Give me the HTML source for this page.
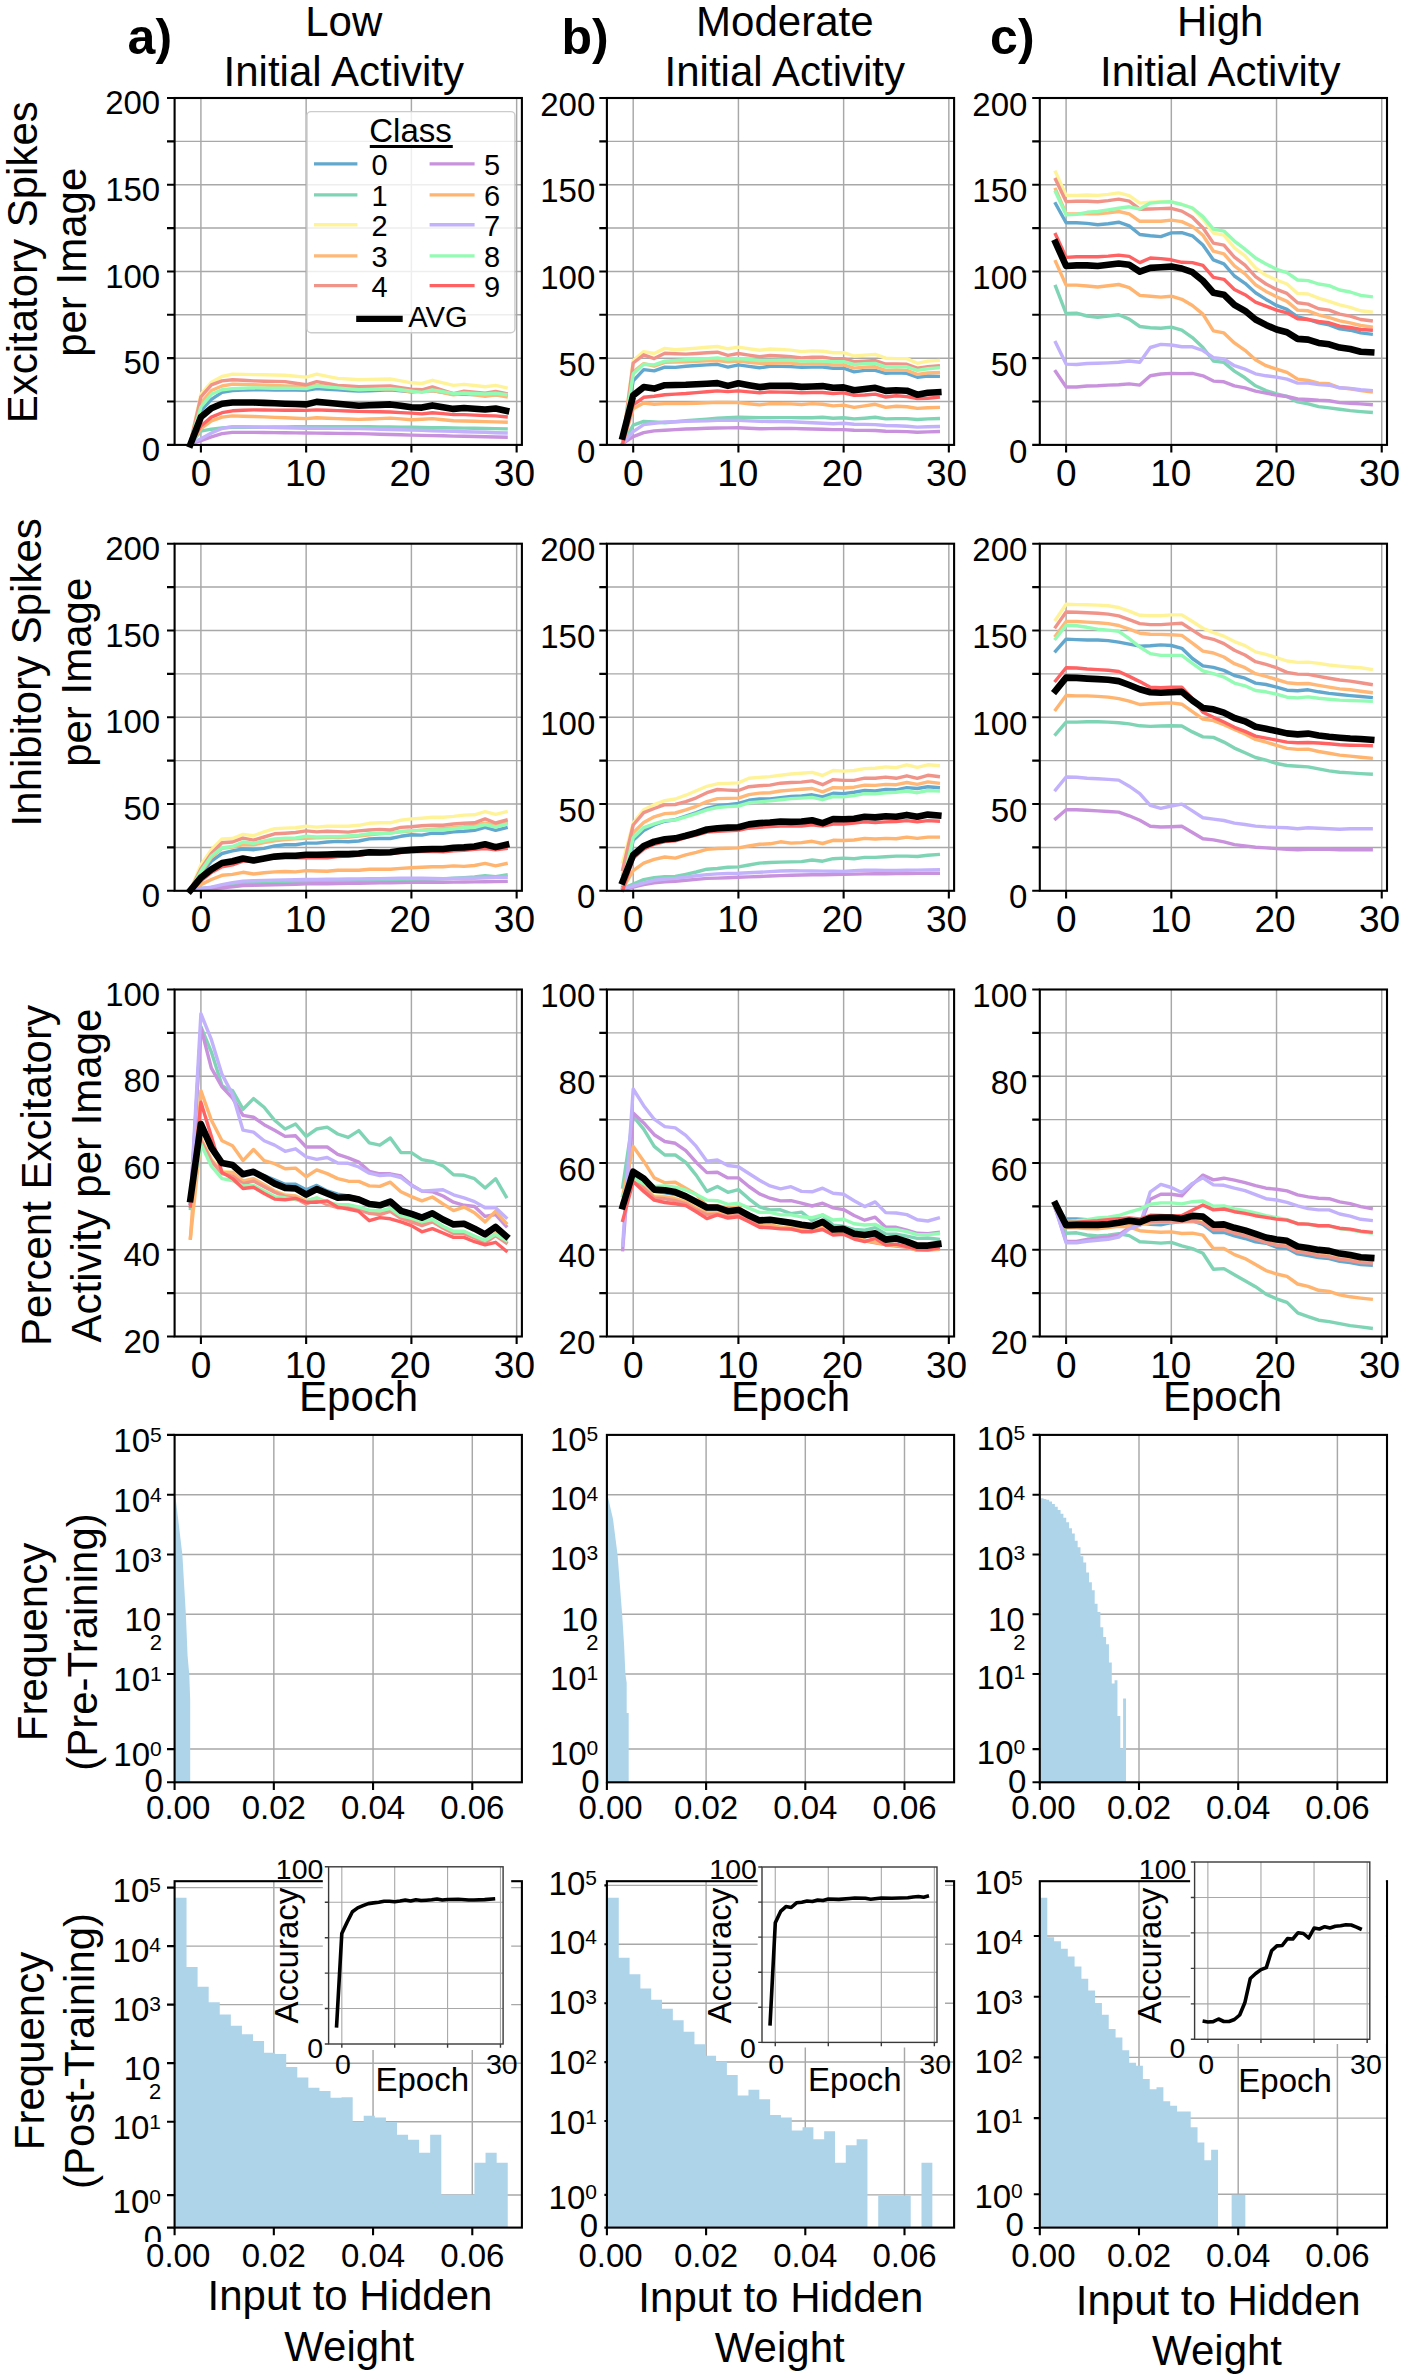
<!DOCTYPE html>
<html><head><meta charset="utf-8"><style>
html,body{margin:0;padding:0;background:#fff;}
svg{display:block;}
text{font-family:"Liberation Sans", sans-serif;}
</style></head><body>
<svg width="1418" height="2379" viewBox="0 0 1418 2379" font-family="Liberation Sans, sans-serif">
<rect width="1418" height="2379" fill="#fff"/>
<path d="M200.91 98.00V444.90M306.15 98.00V444.90M411.40 98.00V444.90M516.64 98.00V444.90M174.60 401.54H521.90M174.60 358.17H521.90M174.60 314.81H521.90M174.60 271.45H521.90M174.60 228.09H521.90M174.60 184.73H521.90M174.60 141.36H521.90" stroke="#a8a8a8" stroke-width="1.45" fill="none"/>
<polyline points="190.4,442.5 200.9,410.8 211.4,399.4 222.0,392.4 232.5,390.5 243.0,390.1 253.5,389.8 264.1,389.9 274.6,390.0 285.1,390.1 295.6,390.1 306.2,390.2 316.7,388.6 327.2,389.2 337.7,389.8 348.2,390.5 358.8,391.1 369.3,390.7 379.8,390.3 390.3,389.8 400.9,390.8 411.4,391.7 421.9,391.1 432.4,390.5 443.0,392.4 453.5,394.3 464.0,394.4 474.5,394.5 485.1,394.7 495.6,394.8 506.1,394.9" fill="none" stroke="#62a8ce" stroke-width="3.4" stroke-linejoin="round" stroke-linecap="square"/>
<polyline points="190.4,443.8 200.9,431.1 211.4,429.2 222.0,427.9 232.5,427.3 243.0,427.3 253.5,427.3 264.1,427.2 274.6,427.0 285.1,426.9 295.6,426.8 306.2,426.6 316.7,426.6 327.2,426.6 337.7,426.6 348.2,426.6 358.8,426.6 369.3,426.8 379.8,426.9 390.3,427.0 400.9,427.2 411.4,427.3 421.9,427.4 432.4,427.6 443.0,427.8 453.5,428.0 464.0,428.1 474.5,428.3 485.1,428.5 495.6,428.6 506.1,428.8" fill="none" stroke="#7fd4b6" stroke-width="3.4" stroke-linejoin="round" stroke-linecap="square"/>
<polyline points="190.4,442.5 200.9,394.3 211.4,382.2 222.0,376.5 232.5,374.2 243.0,374.4 253.5,374.6 264.1,374.8 274.6,375.0 285.1,375.2 295.6,376.2 306.2,377.1 316.7,374.2 327.2,376.3 337.7,378.4 348.2,379.0 358.8,379.7 369.3,379.5 379.8,379.3 390.3,379.0 400.9,380.9 411.4,382.8 421.9,383.5 432.4,380.3 443.0,382.8 453.5,385.4 464.0,384.4 474.5,385.5 485.1,386.7 495.6,385.4 506.1,387.7" fill="none" stroke="#fff39a" stroke-width="3.4" stroke-linejoin="round" stroke-linecap="square"/>
<polyline points="190.4,442.5 200.9,403.2 211.4,390.5 222.0,386.0 232.5,384.1 243.0,384.4 253.5,384.8 264.1,385.1 274.6,385.5 285.1,385.9 295.6,386.3 306.2,386.7 316.7,385.4 327.2,386.3 337.7,387.3 348.2,388.2 358.8,389.2 369.3,389.1 379.8,389.0 390.3,388.9 400.9,390.3 411.4,391.7 421.9,391.1 432.4,390.5 443.0,392.7 453.5,394.9 464.0,393.6 474.5,394.9 485.1,396.2 495.6,394.9 506.1,396.8" fill="none" stroke="#ffb877" stroke-width="3.4" stroke-linejoin="round" stroke-linecap="square"/>
<polyline points="190.4,442.5 200.9,396.8 211.4,384.8 222.0,380.9 232.5,379.7 243.0,380.3 253.5,380.9 264.1,381.2 274.6,381.4 285.1,381.6 295.6,383.2 306.2,384.8 316.7,381.6 327.2,383.5 337.7,385.4 348.2,386.0 358.8,386.7 369.3,386.4 379.8,386.2 390.3,386.0 400.9,387.6 411.4,389.2 421.9,389.8 432.4,386.9 443.0,390.3 453.5,393.6 464.0,391.1 474.5,392.2 485.1,393.3 495.6,391.5 506.1,393.6" fill="none" stroke="#f0948a" stroke-width="3.4" stroke-linejoin="round" stroke-linecap="square"/>
<polyline points="190.4,443.8 200.9,440.6 211.4,436.8 222.0,433.6 232.5,432.4 243.0,432.4 253.5,432.4 264.1,432.5 274.6,432.6 285.1,432.7 295.6,432.9 306.2,433.0 316.7,433.1 327.2,433.2 337.7,433.4 348.2,433.5 358.8,433.6 369.3,433.9 379.8,434.2 390.3,434.5 400.9,434.8 411.4,435.1 421.9,435.4 432.4,435.6 443.0,435.8 453.5,436.1 464.0,436.3 474.5,436.5 485.1,436.7 495.6,437.0 506.1,437.2" fill="none" stroke="#c992dd" stroke-width="3.4" stroke-linejoin="round" stroke-linecap="square"/>
<polyline points="190.4,443.8 200.9,428.5 211.4,420.9 222.0,417.1 232.5,415.9 243.0,416.2 253.5,416.5 264.1,416.9 274.6,417.4 285.1,417.8 295.6,418.2 306.2,418.6 316.7,417.8 327.2,418.2 337.7,418.6 348.2,419.0 358.8,419.4 369.3,419.0 379.8,418.6 390.3,418.1 400.9,418.9 411.4,419.7 421.9,419.2 432.4,418.6 443.0,419.7 453.5,420.7 464.0,421.0 474.5,421.3 485.1,421.6 495.6,421.9 506.1,422.2" fill="none" stroke="#ffb470" stroke-width="3.4" stroke-linejoin="round" stroke-linecap="square"/>
<polyline points="190.4,443.8 200.9,438.7 211.4,433.0 222.0,428.5 232.5,426.6 243.0,426.8 253.5,427.0 264.1,427.3 274.6,427.5 285.1,427.8 295.6,428.0 306.2,428.3 316.7,428.3 327.2,428.4 337.7,428.4 348.2,428.5 358.8,428.5 369.3,428.9 379.8,429.2 390.3,429.5 400.9,429.8 411.4,430.1 421.9,430.4 432.4,430.7 443.0,431.0 453.5,431.4 464.0,431.7 474.5,432.0 485.1,432.3 495.6,432.7 506.1,433.0" fill="none" stroke="#c2b2fb" stroke-width="3.4" stroke-linejoin="round" stroke-linecap="square"/>
<polyline points="190.4,442.5 200.9,407.0 211.4,394.3 222.0,389.8 232.5,388.6 243.0,388.2 253.5,387.9 264.1,388.1 274.6,388.2 285.1,388.3 295.6,388.4 306.2,388.6 316.7,386.0 327.2,387.0 337.7,387.9 348.2,388.9 358.8,389.8 369.3,389.4 379.8,389.0 390.3,388.6 400.9,389.8 411.4,391.1 421.9,392.4 432.4,389.8 443.0,391.7 453.5,393.6 464.0,393.0 474.5,393.5 485.1,394.0 495.6,393.3 506.1,394.5" fill="none" stroke="#94fbb4" stroke-width="3.4" stroke-linejoin="round" stroke-linecap="square"/>
<polyline points="190.4,443.8 200.9,426.0 211.4,417.1 222.0,412.7 232.5,410.8 243.0,410.3 253.5,409.9 264.1,410.0 274.6,410.1 285.1,410.2 295.6,410.3 306.2,410.4 316.7,409.9 327.2,410.3 337.7,410.6 348.2,411.0 358.8,411.4 369.3,411.6 379.8,411.8 390.3,412.0 400.9,412.6 411.4,413.1 421.9,413.9 432.4,412.7 443.0,413.6 453.5,414.6 464.0,414.6 474.5,415.1 485.1,415.6 495.6,415.9 506.1,416.9" fill="none" stroke="#ff6262" stroke-width="3.4" stroke-linejoin="round" stroke-linecap="square"/>
<polyline points="190.4,444.4 200.9,417.1 211.4,408.2 222.0,403.8 232.5,402.5 243.0,402.5 253.5,402.5 264.1,402.9 274.6,403.3 285.1,403.7 295.6,404.0 306.2,404.4 316.7,401.9 327.2,402.8 337.7,403.8 348.2,404.7 358.8,405.7 369.3,405.3 379.8,404.9 390.3,404.4 400.9,405.8 411.4,407.2 421.9,407.6 432.4,405.4 443.0,407.2 453.5,408.9 464.0,408.0 474.5,408.7 485.1,409.5 495.6,408.5 506.1,410.8" fill="none" stroke="#000" stroke-width="6.6" stroke-linejoin="round" stroke-linecap="square"/>
<rect x="174.60" y="98.00" width="347.30" height="346.90" fill="none" stroke="#000" stroke-width="2.1"/>
<path d="M200.91 444.90v7.6M306.15 444.90v7.6M411.40 444.90v7.6M516.64 444.90v7.6M174.60 444.90h-7.6M174.60 401.54h-7.6M174.60 358.17h-7.6M174.60 314.81h-7.6M174.60 271.45h-7.6M174.60 228.09h-7.6M174.60 184.73h-7.6M174.60 141.36h-7.6M174.60 98.00h-7.6" stroke="#000" stroke-width="2.1" fill="none"/>
<text x="160.19" y="461.11" font-size="33.0" text-anchor="end" font-weight="normal">0</text>
<text x="160.19" y="374.39" font-size="33.0" text-anchor="end" font-weight="normal">50</text>
<text x="160.19" y="287.66" font-size="33.0" text-anchor="end" font-weight="normal">100</text>
<text x="160.19" y="200.94" font-size="33.0" text-anchor="end" font-weight="normal">150</text>
<text x="160.19" y="114.21" font-size="33.0" text-anchor="end" font-weight="normal">200</text>
<text x="201.11" y="486.19" font-size="37.0" text-anchor="middle" font-weight="normal">0</text>
<text x="305.55" y="486.19" font-size="37.0" text-anchor="middle" font-weight="normal">10</text>
<text x="410.00" y="486.19" font-size="37.0" text-anchor="middle" font-weight="normal">20</text>
<text x="514.44" y="486.19" font-size="37.0" text-anchor="middle" font-weight="normal">30</text>
<path d="M633.20 98.00V444.90M738.42 98.00V444.90M843.63 98.00V444.90M948.84 98.00V444.90M606.90 401.54H954.10M606.90 358.17H954.10M606.90 314.81H954.10M606.90 271.45H954.10M606.90 228.09H954.10M606.90 184.73H954.10M606.90 141.36H954.10" stroke="#a8a8a8" stroke-width="1.45" fill="none"/>
<polyline points="622.7,442.7 633.2,380.8 643.7,369.6 654.2,370.9 664.8,367.1 675.3,367.4 685.8,366.2 696.3,365.5 706.9,364.9 717.4,364.3 727.9,367.1 738.4,364.9 748.9,366.4 759.5,367.8 770.0,366.2 780.5,366.4 791.0,366.6 801.5,367.4 812.1,367.1 822.6,367.1 833.1,368.3 843.6,368.1 854.1,371.9 864.7,370.4 875.2,370.4 885.7,373.4 896.2,372.9 906.8,373.4 917.3,377.2 927.8,376.0 938.3,376.3" fill="none" stroke="#62a8ce" stroke-width="3.4" stroke-linejoin="round" stroke-linecap="square"/>
<polyline points="622.7,443.6 633.2,425.2 643.7,421.4 654.2,422.0 664.8,422.7 675.3,421.7 685.8,420.8 696.3,419.9 706.9,419.1 717.4,418.2 727.9,417.8 738.4,417.3 748.9,417.5 759.5,417.6 770.0,417.6 780.5,417.6 791.0,417.6 801.5,417.8 812.1,417.8 822.6,417.3 833.1,418.2 843.6,417.8 854.1,418.9 864.7,418.2 875.2,417.3 885.7,418.9 896.2,418.6 906.8,418.6 917.3,419.5 927.8,418.9 938.3,418.6" fill="none" stroke="#7fd4b6" stroke-width="3.4" stroke-linejoin="round" stroke-linecap="square"/>
<polyline points="622.7,441.7 633.2,360.5 643.7,351.6 654.2,353.5 664.8,348.4 675.3,349.7 685.8,349.0 696.3,348.2 706.9,347.3 717.4,346.5 727.9,348.8 738.4,347.1 748.9,348.7 759.5,350.3 770.0,349.0 780.5,349.5 791.0,350.1 801.5,351.6 812.1,350.9 822.6,351.3 833.1,352.8 843.6,352.6 854.1,356.0 864.7,355.1 875.2,354.4 885.7,358.2 896.2,358.6 906.8,358.6 917.3,363.3 927.8,361.1 938.3,360.5" fill="none" stroke="#fff39a" stroke-width="3.4" stroke-linejoin="round" stroke-linecap="square"/>
<polyline points="622.7,442.3 633.2,371.9 643.7,363.6 654.2,366.2 664.8,362.4 675.3,362.1 685.8,361.7 696.3,361.3 706.9,360.9 717.4,360.5 727.9,361.7 738.4,361.1 748.9,362.2 759.5,363.3 770.0,363.2 780.5,363.1 791.0,363.0 801.5,364.3 812.1,363.6 822.6,364.0 833.1,364.9 843.6,364.9 854.1,368.1 864.7,367.1 875.2,366.8 885.7,370.4 896.2,370.0 906.8,370.4 917.3,374.4 927.8,372.9 938.3,372.5" fill="none" stroke="#ffb877" stroke-width="3.4" stroke-linejoin="round" stroke-linecap="square"/>
<polyline points="622.7,442.3 633.2,363.0 643.7,354.8 654.2,358.6 664.8,353.2 675.3,353.7 685.8,354.1 696.3,353.5 706.9,352.8 717.4,352.2 727.9,355.4 738.4,353.5 748.9,355.1 759.5,356.7 770.0,355.4 780.5,356.0 791.0,356.7 801.5,357.9 812.1,357.3 822.6,357.3 833.1,358.6 843.6,358.6 854.1,361.7 864.7,361.1 875.2,360.5 885.7,364.0 896.2,364.0 906.8,364.3 917.3,368.1 927.8,366.8 938.3,365.8" fill="none" stroke="#f0948a" stroke-width="3.4" stroke-linejoin="round" stroke-linecap="square"/>
<polyline points="622.7,443.6 633.2,436.6 643.7,432.6 654.2,430.9 664.8,430.3 675.3,429.6 685.8,429.0 696.3,428.7 706.9,428.3 717.4,428.0 727.9,427.9 738.4,427.7 748.9,428.3 759.5,428.8 770.0,428.6 780.5,428.5 791.0,428.4 801.5,428.7 812.1,429.0 822.6,429.3 833.1,429.6 843.6,429.6 854.1,430.3 864.7,430.4 875.2,430.5 885.7,431.3 896.2,431.4 906.8,431.6 917.3,432.2 927.8,431.9 938.3,431.6" fill="none" stroke="#c992dd" stroke-width="3.4" stroke-linejoin="round" stroke-linecap="square"/>
<polyline points="622.7,443.6 633.2,408.7 643.7,403.0 654.2,404.3 664.8,403.6 675.3,403.6 685.8,403.6 696.3,403.2 706.9,402.8 717.4,402.4 727.9,402.5 738.4,402.6 748.9,403.8 759.5,404.9 770.0,403.6 780.5,403.8 791.0,403.9 801.5,404.6 812.1,403.6 822.6,404.3 833.1,405.9 843.6,405.1 854.1,407.4 864.7,405.9 875.2,404.3 885.7,407.4 896.2,406.2 906.8,406.8 917.3,408.4 927.8,407.7 938.3,407.4" fill="none" stroke="#ffb470" stroke-width="3.4" stroke-linejoin="round" stroke-linecap="square"/>
<polyline points="622.7,443.6 633.2,431.6 643.7,424.6 654.2,423.3 664.8,422.0 675.3,421.7 685.8,421.4 696.3,421.1 706.9,420.7 717.4,420.4 727.9,420.4 738.4,420.4 748.9,420.9 759.5,421.4 770.0,421.5 780.5,421.6 791.0,421.7 801.5,422.2 812.1,422.7 822.6,423.2 833.1,423.7 843.6,423.3 854.1,424.2 864.7,424.4 875.2,424.6 885.7,425.5 896.2,425.8 906.8,426.2 917.3,427.1 927.8,426.8 938.3,426.5" fill="none" stroke="#c2b2fb" stroke-width="3.4" stroke-linejoin="round" stroke-linecap="square"/>
<polyline points="622.7,442.3 633.2,373.8 643.7,364.3 654.2,364.9 664.8,361.1 675.3,360.5 685.8,359.8 696.3,359.2 706.9,358.6 717.4,357.9 727.9,359.4 738.4,358.6 748.9,359.5 759.5,360.5 770.0,360.4 780.5,360.3 791.0,360.2 801.5,361.1 812.1,360.8 822.6,361.1 833.1,361.7 843.6,361.7 854.1,364.5 864.7,363.6 875.2,363.4 885.7,366.8 896.2,366.8 906.8,366.8 917.3,370.4 927.8,368.7 938.3,367.8" fill="none" stroke="#94fbb4" stroke-width="3.4" stroke-linejoin="round" stroke-linecap="square"/>
<polyline points="622.7,443.6 633.2,404.9 643.7,397.3 654.2,396.3 664.8,394.7 675.3,394.1 685.8,393.5 696.3,392.6 706.9,391.8 717.4,390.9 727.9,391.6 738.4,390.9 748.9,391.9 759.5,392.8 770.0,391.9 780.5,392.1 791.0,392.2 801.5,392.8 812.1,392.5 822.6,392.5 833.1,393.5 843.6,392.8 854.1,395.4 864.7,395.0 875.2,394.1 885.7,397.0 896.2,395.8 906.8,396.6 917.3,398.5 927.8,398.3 938.3,397.3" fill="none" stroke="#ff6262" stroke-width="3.4" stroke-linejoin="round" stroke-linecap="square"/>
<polyline points="622.7,436.6 633.2,395.4 643.7,387.1 654.2,388.6 664.8,385.2 675.3,385.0 685.8,384.8 696.3,384.2 706.9,383.7 717.4,383.1 727.9,385.9 738.4,383.3 748.9,385.2 759.5,387.1 770.0,385.9 780.5,385.9 791.0,385.9 801.5,386.9 812.1,386.5 822.6,386.1 833.1,387.8 843.6,387.4 854.1,390.3 864.7,389.0 875.2,387.8 885.7,390.9 896.2,390.3 906.8,390.7 917.3,394.7 927.8,392.8 938.3,392.2" fill="none" stroke="#000" stroke-width="6.6" stroke-linejoin="round" stroke-linecap="square"/>
<rect x="606.90" y="98.00" width="347.20" height="346.90" fill="none" stroke="#000" stroke-width="2.1"/>
<path d="M633.20 444.90v7.6M738.42 444.90v7.6M843.63 444.90v7.6M948.84 444.90v7.6M606.90 444.90h-7.6M606.90 401.54h-7.6M606.90 358.17h-7.6M606.90 314.81h-7.6M606.90 271.45h-7.6M606.90 228.09h-7.6M606.90 184.73h-7.6M606.90 141.36h-7.6M606.90 98.00h-7.6" stroke="#000" stroke-width="2.1" fill="none"/>
<text x="595.29" y="462.51" font-size="33.0" text-anchor="end" font-weight="normal">0</text>
<text x="595.29" y="375.79" font-size="33.0" text-anchor="end" font-weight="normal">50</text>
<text x="595.29" y="289.06" font-size="33.0" text-anchor="end" font-weight="normal">100</text>
<text x="595.29" y="202.34" font-size="33.0" text-anchor="end" font-weight="normal">150</text>
<text x="595.29" y="115.61" font-size="33.0" text-anchor="end" font-weight="normal">200</text>
<text x="633.40" y="486.19" font-size="37.0" text-anchor="middle" font-weight="normal">0</text>
<text x="737.82" y="486.19" font-size="37.0" text-anchor="middle" font-weight="normal">10</text>
<text x="842.23" y="486.19" font-size="37.0" text-anchor="middle" font-weight="normal">20</text>
<text x="946.64" y="486.19" font-size="37.0" text-anchor="middle" font-weight="normal">30</text>
<path d="M1066.10 98.00V444.90M1171.32 98.00V444.90M1276.53 98.00V444.90M1381.74 98.00V444.90M1039.80 401.54H1387.00M1039.80 358.17H1387.00M1039.80 314.81H1387.00M1039.80 271.45H1387.00M1039.80 228.09H1387.00M1039.80 184.73H1387.00M1039.80 141.36H1387.00" stroke="#a8a8a8" stroke-width="1.45" fill="none"/>
<polyline points="1055.6,203.7 1066.1,222.8 1076.6,222.8 1087.1,223.4 1097.7,224.7 1108.2,223.8 1118.7,222.2 1129.2,225.9 1139.8,234.5 1150.3,235.8 1160.8,236.6 1171.3,232.9 1181.8,232.7 1192.4,235.8 1202.9,245.0 1213.4,259.9 1223.9,263.9 1234.4,276.0 1245.0,283.3 1255.5,292.7 1266.0,299.4 1276.5,305.4 1287.0,309.4 1297.6,316.8 1308.1,319.5 1318.6,322.8 1329.1,324.9 1339.7,328.9 1350.2,330.2 1360.7,332.9 1371.2,334.2" fill="none" stroke="#62a8ce" stroke-width="3.4" stroke-linejoin="round" stroke-linecap="square"/>
<polyline points="1055.6,286.4 1066.1,313.5 1076.6,313.2 1087.1,316.0 1097.7,317.2 1108.2,316.0 1118.7,314.8 1129.2,319.1 1139.8,326.5 1150.3,327.7 1160.8,328.3 1171.3,327.1 1181.8,330.2 1192.4,337.6 1202.9,347.5 1213.4,361.0 1223.9,362.4 1234.4,371.1 1245.0,377.8 1255.5,385.8 1266.0,390.5 1276.5,393.9 1287.0,396.5 1297.6,401.9 1308.1,403.9 1318.6,406.6 1329.1,407.9 1339.7,409.3 1350.2,410.6 1360.7,411.6 1371.2,412.4" fill="none" stroke="#7fd4b6" stroke-width="3.4" stroke-linejoin="round" stroke-linecap="square"/>
<polyline points="1055.6,172.2 1066.1,195.4 1076.6,195.4 1087.1,195.0 1097.7,195.4 1108.2,194.4 1118.7,192.9 1129.2,195.7 1139.8,203.1 1150.3,202.1 1160.8,201.8 1171.3,201.8 1181.8,204.3 1192.4,208.0 1202.9,219.1 1213.4,233.1 1223.9,235.1 1234.4,247.8 1245.0,255.9 1255.5,267.9 1266.0,275.3 1276.5,280.0 1287.0,284.0 1297.6,293.4 1308.1,294.0 1318.6,298.1 1329.1,301.4 1339.7,304.8 1350.2,307.4 1360.7,310.8 1371.2,312.1" fill="none" stroke="#fff39a" stroke-width="3.4" stroke-linejoin="round" stroke-linecap="square"/>
<polyline points="1055.6,189.5 1066.1,213.6 1076.6,213.9 1087.1,213.6 1097.7,213.9 1108.2,212.9 1118.7,211.5 1129.2,213.9 1139.8,221.3 1150.3,221.3 1160.8,221.3 1171.3,220.1 1181.8,221.6 1192.4,226.5 1202.9,235.2 1213.4,251.2 1223.9,253.8 1234.4,265.9 1245.0,273.9 1255.5,284.7 1266.0,291.4 1276.5,296.7 1287.0,301.4 1297.6,310.1 1308.1,310.8 1318.6,314.8 1329.1,317.5 1339.7,320.8 1350.2,322.8 1360.7,325.5 1371.2,326.9" fill="none" stroke="#ffb877" stroke-width="3.4" stroke-linejoin="round" stroke-linecap="square"/>
<polyline points="1055.6,179.6 1066.1,201.6 1076.6,201.2 1087.1,201.2 1097.7,201.8 1108.2,200.6 1118.7,199.1 1129.2,201.2 1139.8,209.2 1150.3,209.0 1160.8,208.6 1171.3,208.3 1181.8,211.1 1192.4,217.3 1202.9,227.8 1213.4,243.1 1223.9,245.1 1234.4,257.2 1245.0,265.2 1255.5,276.6 1266.0,284.0 1276.5,289.4 1287.0,293.4 1297.6,302.8 1308.1,304.1 1318.6,308.8 1329.1,310.1 1339.7,314.1 1350.2,316.1 1360.7,319.5 1371.2,320.8" fill="none" stroke="#f0948a" stroke-width="3.4" stroke-linejoin="round" stroke-linecap="square"/>
<polyline points="1055.6,371.5 1066.1,387.0 1076.6,387.0 1087.1,386.0 1097.7,385.7 1108.2,385.1 1118.7,384.7 1129.2,383.9 1139.8,385.1 1150.3,375.8 1160.8,374.0 1171.3,373.4 1181.8,373.6 1192.4,373.4 1202.9,375.8 1213.4,381.1 1223.9,381.8 1234.4,385.8 1245.0,387.8 1255.5,391.2 1266.0,393.2 1276.5,395.2 1287.0,396.5 1297.6,399.0 1308.1,399.5 1318.6,400.3 1329.1,400.8 1339.7,402.6 1350.2,403.2 1360.7,403.9 1371.2,404.6" fill="none" stroke="#c992dd" stroke-width="3.4" stroke-linejoin="round" stroke-linecap="square"/>
<polyline points="1055.6,261.7 1066.1,285.1 1076.6,285.1 1087.1,286.0 1097.7,287.0 1108.2,285.8 1118.7,284.5 1129.2,287.6 1139.8,295.4 1150.3,296.2 1160.8,297.1 1171.3,296.2 1181.8,299.3 1192.4,305.5 1202.9,314.1 1213.4,330.9 1223.9,332.9 1234.4,342.9 1245.0,350.3 1255.5,359.7 1266.0,365.7 1276.5,369.1 1287.0,372.4 1297.6,379.1 1308.1,380.5 1318.6,383.1 1329.1,383.8 1339.7,387.8 1350.2,388.8 1360.7,390.5 1371.2,391.9" fill="none" stroke="#ffb470" stroke-width="3.4" stroke-linejoin="round" stroke-linecap="square"/>
<polyline points="1055.6,342.5 1066.1,364.1 1076.6,364.5 1087.1,363.5 1097.7,363.3 1108.2,362.9 1118.7,362.3 1129.2,361.0 1139.8,362.3 1150.3,347.5 1160.8,344.4 1171.3,345.0 1181.8,346.8 1192.4,346.8 1202.9,350.5 1213.4,357.7 1223.9,359.0 1234.4,365.7 1245.0,369.1 1255.5,373.8 1266.0,375.8 1276.5,377.1 1287.0,379.1 1297.6,383.1 1308.1,383.1 1318.6,384.5 1329.1,385.2 1339.7,387.8 1350.2,388.5 1360.7,389.8 1371.2,390.5" fill="none" stroke="#c2b2fb" stroke-width="3.4" stroke-linejoin="round" stroke-linecap="square"/>
<polyline points="1055.6,192.0 1066.1,214.8 1076.6,214.4 1087.1,212.3 1097.7,211.5 1108.2,209.9 1118.7,208.3 1129.2,206.8 1139.8,209.0 1150.3,203.1 1160.8,202.1 1171.3,201.8 1181.8,204.5 1192.4,208.0 1202.9,216.6 1213.4,229.1 1223.9,231.1 1234.4,241.1 1245.0,249.2 1255.5,257.9 1266.0,263.9 1276.5,269.3 1287.0,272.6 1297.6,280.0 1308.1,280.6 1318.6,284.0 1329.1,285.6 1339.7,290.0 1350.2,292.0 1360.7,295.4 1371.2,296.7" fill="none" stroke="#94fbb4" stroke-width="3.4" stroke-linejoin="round" stroke-linecap="square"/>
<polyline points="1055.6,234.5 1066.1,257.4 1076.6,256.8 1087.1,256.8 1097.7,256.8 1108.2,256.1 1118.7,255.1 1129.2,256.4 1139.8,262.6 1150.3,258.0 1160.8,258.6 1171.3,259.8 1181.8,262.3 1192.4,262.6 1202.9,265.4 1213.4,277.3 1223.9,279.3 1234.4,289.4 1245.0,294.7 1255.5,302.1 1266.0,306.1 1276.5,310.1 1287.0,312.8 1297.6,318.8 1308.1,319.5 1318.6,321.5 1329.1,322.8 1339.7,326.2 1350.2,327.5 1360.7,329.5 1371.2,330.2" fill="none" stroke="#ff6262" stroke-width="3.4" stroke-linejoin="round" stroke-linecap="square"/>
<polyline points="1055.6,242.6 1066.1,266.0 1076.6,265.4 1087.1,265.4 1097.7,266.0 1108.2,264.8 1118.7,263.5 1129.2,264.8 1139.8,271.6 1150.3,267.9 1160.8,267.2 1171.3,266.6 1181.8,268.5 1192.4,272.2 1202.9,280.8 1213.4,292.7 1223.9,294.7 1234.4,304.8 1245.0,310.8 1255.5,319.5 1266.0,324.9 1276.5,329.5 1287.0,332.2 1297.6,338.9 1308.1,339.6 1318.6,342.9 1329.1,344.3 1339.7,347.6 1350.2,349.0 1360.7,351.7 1371.2,352.3" fill="none" stroke="#000" stroke-width="6.6" stroke-linejoin="round" stroke-linecap="square"/>
<rect x="1039.80" y="98.00" width="347.20" height="346.90" fill="none" stroke="#000" stroke-width="2.1"/>
<path d="M1066.10 444.90v7.6M1171.32 444.90v7.6M1276.53 444.90v7.6M1381.74 444.90v7.6M1039.80 444.90h-7.6M1039.80 401.54h-7.6M1039.80 358.17h-7.6M1039.80 314.81h-7.6M1039.80 271.45h-7.6M1039.80 228.09h-7.6M1039.80 184.73h-7.6M1039.80 141.36h-7.6M1039.80 98.00h-7.6" stroke="#000" stroke-width="2.1" fill="none"/>
<text x="1027.39" y="462.51" font-size="33.0" text-anchor="end" font-weight="normal">0</text>
<text x="1027.39" y="375.79" font-size="33.0" text-anchor="end" font-weight="normal">50</text>
<text x="1027.39" y="289.06" font-size="33.0" text-anchor="end" font-weight="normal">100</text>
<text x="1027.39" y="202.34" font-size="33.0" text-anchor="end" font-weight="normal">150</text>
<text x="1027.39" y="115.61" font-size="33.0" text-anchor="end" font-weight="normal">200</text>
<text x="1066.30" y="486.19" font-size="37.0" text-anchor="middle" font-weight="normal">0</text>
<text x="1170.72" y="486.19" font-size="37.0" text-anchor="middle" font-weight="normal">10</text>
<text x="1275.13" y="486.19" font-size="37.0" text-anchor="middle" font-weight="normal">20</text>
<text x="1379.54" y="486.19" font-size="37.0" text-anchor="middle" font-weight="normal">30</text>
<path d="M200.91 543.70V890.80M306.15 543.70V890.80M411.40 543.70V890.80M516.64 543.70V890.80M174.60 847.41H521.90M174.60 804.02H521.90M174.60 760.64H521.90M174.60 717.25H521.90M174.60 673.86H521.90M174.60 630.48H521.90M174.60 587.09H521.90" stroke="#a8a8a8" stroke-width="1.45" fill="none"/>
<polyline points="190.4,890.3 200.9,873.8 211.4,861.1 222.0,853.5 232.5,850.9 243.0,849.0 253.5,849.7 264.1,848.4 274.6,845.9 285.1,844.8 295.6,844.8 306.2,843.1 316.7,843.1 327.2,842.0 337.7,841.4 348.2,841.8 358.8,841.0 369.3,838.9 379.8,838.5 390.3,838.5 400.9,836.3 411.4,834.7 421.9,835.1 432.4,833.2 443.0,833.2 453.5,831.9 464.0,831.3 474.5,830.4 485.1,827.4 495.6,830.4 506.1,827.8" fill="none" stroke="#62a8ce" stroke-width="3.4" stroke-linejoin="round" stroke-linecap="square"/>
<polyline points="190.4,890.3 200.9,888.4 211.4,887.5 222.0,886.5 232.5,885.0 243.0,883.7 253.5,883.3 264.1,883.3 274.6,882.7 285.1,882.3 295.6,882.0 306.2,881.7 316.7,881.5 327.2,881.4 337.7,881.3 348.2,881.2 358.8,881.1 369.3,880.9 379.8,880.7 390.3,880.5 400.9,880.3 411.4,880.1 421.9,879.7 432.4,879.3 443.0,878.9 453.5,878.2 464.0,877.6 474.5,877.0 485.1,875.7 495.6,876.6 506.1,875.0" fill="none" stroke="#7fd4b6" stroke-width="3.4" stroke-linejoin="round" stroke-linecap="square"/>
<polyline points="190.4,890.3 200.9,864.9 211.4,849.7 222.0,838.9 232.5,838.5 243.0,834.4 253.5,835.7 264.1,831.9 274.6,828.7 285.1,828.1 295.6,827.8 306.2,826.2 316.7,827.1 327.2,826.2 337.7,826.2 348.2,826.2 358.8,825.3 369.3,823.3 379.8,822.8 390.3,822.8 400.9,820.2 411.4,818.9 421.9,818.2 432.4,817.3 443.0,817.3 453.5,816.4 464.0,815.1 474.5,814.8 485.1,811.6 495.6,814.4 506.1,811.8" fill="none" stroke="#fff39a" stroke-width="3.4" stroke-linejoin="round" stroke-linecap="square"/>
<polyline points="190.4,890.3 200.9,872.5 211.4,857.3 222.0,848.4 232.5,847.1 243.0,844.6 253.5,844.8 264.1,842.7 274.6,840.8 285.1,839.5 295.6,838.9 306.2,838.2 316.7,837.9 327.2,837.6 337.7,837.2 348.2,837.0 358.8,836.0 369.3,834.9 379.8,833.9 390.3,832.9 400.9,831.9 411.4,830.9 421.9,830.1 432.4,829.2 443.0,828.4 453.5,827.6 464.0,826.8 474.5,825.0 485.1,823.3 495.6,824.9 506.1,822.4" fill="none" stroke="#ffb877" stroke-width="3.4" stroke-linejoin="round" stroke-linecap="square"/>
<polyline points="190.4,890.3 200.9,868.7 211.4,853.5 222.0,842.7 232.5,842.0 243.0,838.2 253.5,840.1 264.1,837.0 274.6,833.8 285.1,833.2 295.6,832.5 306.2,830.9 316.7,831.9 327.2,831.3 337.7,831.6 348.2,832.1 358.8,830.9 369.3,830.0 379.8,829.4 390.3,830.0 400.9,827.4 411.4,826.8 421.9,825.8 432.4,825.3 443.0,825.3 453.5,824.0 464.0,823.3 474.5,822.8 485.1,818.9 495.6,823.0 506.1,820.2" fill="none" stroke="#f0948a" stroke-width="3.4" stroke-linejoin="round" stroke-linecap="square"/>
<polyline points="190.4,890.3 200.9,889.0 211.4,888.8 222.0,887.7 232.5,886.7 243.0,885.5 253.5,885.2 264.1,885.0 274.6,884.8 285.1,884.6 295.6,884.3 306.2,883.9 316.7,883.8 327.2,883.7 337.7,883.6 348.2,883.4 358.8,883.3 369.3,883.1 379.8,882.9 390.3,882.8 400.9,882.6 411.4,882.4 421.9,882.3 432.4,882.3 443.0,882.2 453.5,882.1 464.0,882.0 474.5,881.9 485.1,881.7 495.6,881.6 506.1,881.4" fill="none" stroke="#c992dd" stroke-width="3.4" stroke-linejoin="round" stroke-linecap="square"/>
<polyline points="190.4,890.3 200.9,884.6 211.4,879.5 222.0,875.3 232.5,874.4 243.0,872.3 253.5,874.0 264.1,872.8 274.6,871.9 285.1,871.5 295.6,871.9 306.2,870.6 316.7,871.0 327.2,871.2 337.7,870.2 348.2,870.2 358.8,870.2 369.3,869.3 379.8,869.3 390.3,869.3 400.9,868.4 411.4,867.7 421.9,867.2 432.4,866.8 443.0,866.8 453.5,865.9 464.0,866.4 474.5,865.5 485.1,863.4 495.6,865.9 506.1,863.6" fill="none" stroke="#ffb470" stroke-width="3.4" stroke-linejoin="round" stroke-linecap="square"/>
<polyline points="190.4,890.3 200.9,888.4 211.4,887.1 222.0,884.6 232.5,882.7 243.0,881.1 253.5,880.8 264.1,880.4 274.6,880.1 285.1,879.9 295.6,879.7 306.2,879.5 316.7,879.4 327.2,879.2 337.7,879.1 348.2,879.0 358.8,878.9 369.3,878.7 379.8,878.6 390.3,878.5 400.9,878.3 411.4,878.2 421.9,878.3 432.4,878.5 443.0,878.6 453.5,878.5 464.0,878.3 474.5,878.2 485.1,877.9 495.6,877.6 506.1,877.3" fill="none" stroke="#c2b2fb" stroke-width="3.4" stroke-linejoin="round" stroke-linecap="square"/>
<polyline points="190.4,890.3 200.9,871.2 211.4,856.0 222.0,847.8 232.5,846.5 243.0,842.0 253.5,843.3 264.1,840.8 274.6,838.9 285.1,838.2 295.6,838.0 306.2,836.3 316.7,837.0 327.2,836.7 337.7,836.7 348.2,836.0 358.8,835.1 369.3,833.8 379.8,833.2 390.3,833.4 400.9,831.3 411.4,830.6 421.9,830.4 432.4,830.0 443.0,830.0 453.5,828.7 464.0,827.8 474.5,827.4 485.1,824.5 495.6,827.1 506.1,824.3" fill="none" stroke="#94fbb4" stroke-width="3.4" stroke-linejoin="round" stroke-linecap="square"/>
<polyline points="190.4,890.3 200.9,880.8 211.4,872.5 222.0,866.8 232.5,864.9 243.0,861.1 253.5,861.1 264.1,859.2 274.6,857.9 285.1,857.9 295.6,857.9 306.2,857.9 316.7,857.9 327.2,857.9 337.7,856.6 348.2,856.0 358.8,855.4 369.3,853.5 379.8,854.1 390.3,853.5 400.9,852.5 411.4,851.9 421.9,851.6 432.4,851.2 443.0,851.9 453.5,850.7 464.0,850.3 474.5,849.4 485.1,848.6 495.6,849.7 506.1,848.4" fill="none" stroke="#ff6262" stroke-width="3.4" stroke-linejoin="round" stroke-linecap="square"/>
<polyline points="190.4,890.3 200.9,877.6 211.4,869.3 222.0,863.0 232.5,861.3 243.0,858.5 253.5,860.5 264.1,858.5 274.6,856.6 285.1,855.8 295.6,855.8 306.2,854.7 316.7,854.7 327.2,854.5 337.7,854.1 348.2,854.1 358.8,853.5 369.3,852.2 379.8,852.5 390.3,852.2 400.9,850.7 411.4,849.9 421.9,849.4 432.4,849.0 443.0,849.0 453.5,847.8 464.0,847.4 474.5,846.5 485.1,844.3 495.6,847.1 506.1,844.8" fill="none" stroke="#000" stroke-width="6.6" stroke-linejoin="round" stroke-linecap="square"/>
<rect x="174.60" y="543.70" width="347.30" height="347.10" fill="none" stroke="#000" stroke-width="2.1"/>
<path d="M200.91 890.80v7.6M306.15 890.80v7.6M411.40 890.80v7.6M516.64 890.80v7.6M174.60 890.80h-7.6M174.60 847.41h-7.6M174.60 804.02h-7.6M174.60 760.64h-7.6M174.60 717.25h-7.6M174.60 673.86h-7.6M174.60 630.48h-7.6M174.60 587.09h-7.6M174.60 543.70h-7.6" stroke="#000" stroke-width="2.1" fill="none"/>
<text x="160.19" y="907.01" font-size="33.0" text-anchor="end" font-weight="normal">0</text>
<text x="160.19" y="820.24" font-size="33.0" text-anchor="end" font-weight="normal">50</text>
<text x="160.19" y="733.46" font-size="33.0" text-anchor="end" font-weight="normal">100</text>
<text x="160.19" y="646.69" font-size="33.0" text-anchor="end" font-weight="normal">150</text>
<text x="160.19" y="559.91" font-size="33.0" text-anchor="end" font-weight="normal">200</text>
<text x="201.11" y="932.09" font-size="37.0" text-anchor="middle" font-weight="normal">0</text>
<text x="305.55" y="932.09" font-size="37.0" text-anchor="middle" font-weight="normal">10</text>
<text x="410.00" y="932.09" font-size="37.0" text-anchor="middle" font-weight="normal">20</text>
<text x="514.44" y="932.09" font-size="37.0" text-anchor="middle" font-weight="normal">30</text>
<path d="M633.20 543.70V890.80M738.42 543.70V890.80M843.63 543.70V890.80M948.84 543.70V890.80M606.90 847.41H954.10M606.90 804.02H954.10M606.90 760.64H954.10M606.90 717.25H954.10M606.90 673.86H954.10M606.90 630.48H954.10M606.90 587.09H954.10" stroke="#a8a8a8" stroke-width="1.45" fill="none"/>
<polyline points="622.7,886.0 633.2,840.3 643.7,830.4 654.2,825.0 664.8,821.2 675.3,819.7 685.8,816.2 696.3,812.6 706.9,808.3 717.4,805.8 727.9,804.7 738.4,803.5 748.9,800.3 759.5,799.0 770.0,799.0 780.5,797.8 791.0,796.5 801.5,795.9 812.1,794.8 822.6,796.9 833.1,793.3 843.6,793.6 854.1,792.3 864.7,790.5 875.2,791.0 885.7,789.5 896.2,789.8 906.8,787.6 917.3,788.5 927.8,786.7 938.3,787.6" fill="none" stroke="#62a8ce" stroke-width="3.4" stroke-linejoin="round" stroke-linecap="square"/>
<polyline points="622.7,888.5 633.2,884.1 643.7,879.6 654.2,877.7 664.8,876.8 675.3,876.5 685.8,874.3 696.3,872.0 706.9,869.2 717.4,868.5 727.9,867.3 738.4,866.9 748.9,865.0 759.5,863.1 770.0,862.5 780.5,862.1 791.0,861.9 801.5,861.6 812.1,860.0 822.6,861.2 833.1,858.7 843.6,858.1 854.1,858.7 864.7,857.4 875.2,857.4 885.7,856.8 896.2,856.1 906.8,856.1 917.3,856.5 927.8,855.3 938.3,854.5" fill="none" stroke="#7fd4b6" stroke-width="3.4" stroke-linejoin="round" stroke-linecap="square"/>
<polyline points="622.7,861.9 633.2,823.1 643.7,809.8 654.2,804.7 664.8,800.7 675.3,799.0 685.8,795.2 696.3,790.8 706.9,786.3 717.4,783.8 727.9,783.4 738.4,782.9 748.9,778.3 759.5,777.4 770.0,776.6 780.5,775.3 791.0,774.0 801.5,773.3 812.1,772.4 822.6,775.5 833.1,770.5 843.6,771.1 854.1,770.5 864.7,768.6 875.2,768.2 885.7,766.9 896.2,767.7 906.8,764.8 917.3,767.3 927.8,764.8 938.3,765.6" fill="none" stroke="#fff39a" stroke-width="3.4" stroke-linejoin="round" stroke-linecap="square"/>
<polyline points="622.7,874.6 633.2,832.7 643.7,822.5 654.2,816.8 664.8,813.6 675.3,813.0 685.8,809.8 696.3,806.3 706.9,801.6 717.4,798.6 727.9,798.4 738.4,798.1 748.9,794.6 759.5,793.1 770.0,792.7 780.5,791.0 791.0,790.1 801.5,789.3 812.1,788.5 822.6,791.8 833.1,787.6 843.6,788.0 854.1,787.2 864.7,785.1 875.2,785.4 885.7,784.4 896.2,784.7 906.8,782.5 917.3,784.4 927.8,781.9 938.3,783.2" fill="none" stroke="#ffb877" stroke-width="3.4" stroke-linejoin="round" stroke-linecap="square"/>
<polyline points="622.7,869.5 633.2,825.0 643.7,812.6 654.2,808.5 664.8,804.7 675.3,804.5 685.8,801.6 696.3,797.8 706.9,792.7 717.4,789.5 727.9,790.1 738.4,790.5 748.9,786.7 759.5,785.7 770.0,785.1 780.5,783.2 791.0,782.5 801.5,782.1 812.1,780.9 822.6,784.7 833.1,779.6 843.6,780.4 854.1,780.4 864.7,778.1 875.2,778.3 885.7,777.1 896.2,778.3 906.8,775.8 917.3,778.3 927.8,775.3 938.3,776.6" fill="none" stroke="#f0948a" stroke-width="3.4" stroke-linejoin="round" stroke-linecap="square"/>
<polyline points="622.7,889.5 633.2,887.2 643.7,884.7 654.2,882.8 664.8,881.9 675.3,881.2 685.8,880.3 696.3,879.4 706.9,878.4 717.4,878.1 727.9,877.7 738.4,877.3 748.9,876.9 759.5,876.5 770.0,876.0 780.5,875.6 791.0,875.2 801.5,875.0 812.1,874.8 822.6,874.7 833.1,874.5 843.6,874.3 854.1,874.1 864.7,873.9 875.2,873.8 885.7,873.7 896.2,873.5 906.8,873.5 917.3,873.4 927.8,873.3 938.3,873.3" fill="none" stroke="#c992dd" stroke-width="3.4" stroke-linejoin="round" stroke-linecap="square"/>
<polyline points="622.7,888.5 633.2,870.7 643.7,863.1 654.2,859.3 664.8,857.0 675.3,858.1 685.8,854.9 696.3,852.3 706.9,849.4 717.4,848.5 727.9,848.2 738.4,847.9 748.9,846.0 759.5,844.3 770.0,843.8 780.5,841.8 791.0,843.1 801.5,842.6 812.1,841.3 822.6,843.5 833.1,840.3 843.6,840.5 854.1,840.0 864.7,838.4 875.2,839.0 885.7,838.4 896.2,838.8 906.8,837.1 917.3,838.4 927.8,837.1 938.3,837.1" fill="none" stroke="#ffb470" stroke-width="3.4" stroke-linejoin="round" stroke-linecap="square"/>
<polyline points="622.7,889.2 633.2,886.0 643.7,882.8 654.2,880.3 664.8,879.0 675.3,878.4 685.8,877.1 696.3,875.8 706.9,874.6 717.4,873.9 727.9,873.5 738.4,873.3 748.9,872.8 759.5,872.3 770.0,871.6 780.5,871.0 791.0,870.7 801.5,870.9 812.1,871.0 822.6,871.1 833.1,871.3 843.6,871.4 854.1,870.7 864.7,870.1 875.2,870.2 885.7,870.4 896.2,870.5 906.8,870.3 917.3,870.1 927.8,869.9 938.3,869.7" fill="none" stroke="#c2b2fb" stroke-width="3.4" stroke-linejoin="round" stroke-linecap="square"/>
<polyline points="622.7,884.7 633.2,837.7 643.7,827.6 654.2,823.8 664.8,820.6 675.3,820.0 685.8,816.8 696.3,813.6 706.9,809.8 717.4,807.5 727.9,806.6 738.4,806.0 748.9,802.8 759.5,801.9 770.0,800.9 780.5,799.7 791.0,798.6 801.5,798.1 812.1,797.4 822.6,799.7 833.1,796.5 843.6,796.9 854.1,795.6 864.7,793.6 875.2,793.9 885.7,792.7 896.2,792.3 906.8,791.0 917.3,792.7 927.8,790.5 938.3,791.0" fill="none" stroke="#94fbb4" stroke-width="3.4" stroke-linejoin="round" stroke-linecap="square"/>
<polyline points="622.7,890.4 633.2,858.1 643.7,849.2 654.2,844.3 664.8,841.6 675.3,840.9 685.8,837.7 696.3,835.2 706.9,832.0 717.4,831.4 727.9,830.8 738.4,830.4 748.9,828.2 759.5,827.3 770.0,826.6 780.5,826.1 791.0,825.7 801.5,826.1 812.1,824.8 822.6,826.1 833.1,824.0 843.6,824.0 854.1,823.1 864.7,821.9 875.2,822.5 885.7,821.9 896.2,821.5 906.8,820.6 917.3,821.9 927.8,820.6 938.3,821.2" fill="none" stroke="#ff6262" stroke-width="3.4" stroke-linejoin="round" stroke-linecap="square"/>
<polyline points="622.7,881.5 633.2,854.9 643.7,846.0 654.2,841.6 664.8,839.3 675.3,838.4 685.8,835.8 696.3,832.9 706.9,829.5 717.4,828.2 727.9,827.6 738.4,827.3 748.9,824.4 759.5,823.1 770.0,822.5 780.5,821.5 791.0,821.9 801.5,821.5 812.1,820.2 822.6,823.1 833.1,819.0 843.6,819.3 854.1,818.7 864.7,816.8 875.2,817.4 885.7,816.2 896.2,816.8 906.8,814.9 917.3,816.8 927.8,814.6 938.3,815.5" fill="none" stroke="#000" stroke-width="6.6" stroke-linejoin="round" stroke-linecap="square"/>
<rect x="606.90" y="543.70" width="347.20" height="347.10" fill="none" stroke="#000" stroke-width="2.1"/>
<path d="M633.20 890.80v7.6M738.42 890.80v7.6M843.63 890.80v7.6M948.84 890.80v7.6M606.90 890.80h-7.6M606.90 847.41h-7.6M606.90 804.02h-7.6M606.90 760.64h-7.6M606.90 717.25h-7.6M606.90 673.86h-7.6M606.90 630.48h-7.6M606.90 587.09h-7.6M606.90 543.70h-7.6" stroke="#000" stroke-width="2.1" fill="none"/>
<text x="595.29" y="908.41" font-size="33.0" text-anchor="end" font-weight="normal">0</text>
<text x="595.29" y="821.64" font-size="33.0" text-anchor="end" font-weight="normal">50</text>
<text x="595.29" y="734.86" font-size="33.0" text-anchor="end" font-weight="normal">100</text>
<text x="595.29" y="648.09" font-size="33.0" text-anchor="end" font-weight="normal">150</text>
<text x="595.29" y="561.31" font-size="33.0" text-anchor="end" font-weight="normal">200</text>
<text x="633.40" y="932.09" font-size="37.0" text-anchor="middle" font-weight="normal">0</text>
<text x="737.82" y="932.09" font-size="37.0" text-anchor="middle" font-weight="normal">10</text>
<text x="842.23" y="932.09" font-size="37.0" text-anchor="middle" font-weight="normal">20</text>
<text x="946.64" y="932.09" font-size="37.0" text-anchor="middle" font-weight="normal">30</text>
<path d="M1066.10 543.70V890.80M1171.32 543.70V890.80M1276.53 543.70V890.80M1381.74 543.70V890.80M1039.80 847.41H1387.00M1039.80 804.02H1387.00M1039.80 760.64H1387.00M1039.80 717.25H1387.00M1039.80 673.86H1387.00M1039.80 630.48H1387.00M1039.80 587.09H1387.00" stroke="#a8a8a8" stroke-width="1.45" fill="none"/>
<polyline points="1055.6,651.1 1066.1,639.1 1076.6,639.6 1087.1,640.0 1097.7,640.0 1108.2,640.6 1118.7,642.1 1129.2,644.1 1139.8,646.2 1150.3,645.8 1160.8,644.9 1171.3,645.5 1181.8,648.3 1192.4,658.5 1202.9,665.9 1213.4,667.4 1223.9,670.4 1234.4,675.5 1245.0,678.2 1255.5,683.1 1266.0,684.5 1276.5,687.1 1287.0,690.2 1297.6,690.8 1308.1,689.8 1318.6,691.8 1329.1,693.4 1339.7,694.5 1350.2,695.6 1360.7,696.5 1371.2,697.5" fill="none" stroke="#62a8ce" stroke-width="3.4" stroke-linejoin="round" stroke-linecap="square"/>
<polyline points="1055.6,734.4 1066.1,722.1 1076.6,722.1 1087.1,721.8 1097.7,721.8 1108.2,722.1 1118.7,722.7 1129.2,723.9 1139.8,725.8 1150.3,726.4 1160.8,726.0 1171.3,725.8 1181.8,726.0 1192.4,731.9 1202.9,736.9 1213.4,737.4 1223.9,742.1 1234.4,748.1 1245.0,752.8 1255.5,757.5 1266.0,760.2 1276.5,763.5 1287.0,765.5 1297.6,766.2 1308.1,766.9 1318.6,768.9 1329.1,770.9 1339.7,772.2 1350.2,772.9 1360.7,773.6 1371.2,774.2" fill="none" stroke="#7fd4b6" stroke-width="3.4" stroke-linejoin="round" stroke-linecap="square"/>
<polyline points="1055.6,619.6 1066.1,604.2 1076.6,604.6 1087.1,604.8 1097.7,605.1 1108.2,605.8 1118.7,607.5 1129.2,611.2 1139.8,615.3 1150.3,615.7 1160.8,615.7 1171.3,614.9 1181.8,614.9 1192.4,621.5 1202.9,628.3 1213.4,632.6 1223.9,636.2 1234.4,641.6 1245.0,645.6 1255.5,651.9 1266.0,654.3 1276.5,657.7 1287.0,661.0 1297.6,662.4 1308.1,662.1 1318.6,663.4 1329.1,665.0 1339.7,666.1 1350.2,667.0 1360.7,667.7 1371.2,669.3" fill="none" stroke="#fff39a" stroke-width="3.4" stroke-linejoin="round" stroke-linecap="square"/>
<polyline points="1055.6,635.7 1066.1,621.5 1076.6,621.5 1087.1,622.1 1097.7,622.7 1108.2,623.6 1118.7,625.5 1129.2,629.2 1139.8,633.2 1150.3,634.2 1160.8,634.4 1171.3,634.7 1181.8,635.4 1192.4,643.1 1202.9,651.1 1213.4,653.0 1223.9,657.0 1234.4,663.7 1245.0,667.7 1255.5,673.7 1266.0,676.4 1276.5,679.5 1287.0,682.7 1297.6,683.8 1308.1,683.5 1318.6,685.4 1329.1,687.1 1339.7,688.9 1350.2,689.8 1360.7,691.2 1371.2,692.5" fill="none" stroke="#ffb877" stroke-width="3.4" stroke-linejoin="round" stroke-linecap="square"/>
<polyline points="1055.6,627.0 1066.1,612.0 1076.6,612.2 1087.1,612.8 1097.7,613.2 1108.2,614.1 1118.7,615.9 1129.2,619.6 1139.8,623.6 1150.3,624.6 1160.8,624.6 1171.3,623.9 1181.8,623.3 1192.4,630.1 1202.9,636.9 1213.4,639.3 1223.9,643.6 1234.4,650.3 1245.0,655.0 1255.5,661.7 1266.0,664.4 1276.5,667.7 1287.0,672.4 1297.6,674.1 1308.1,674.4 1318.6,676.4 1329.1,678.2 1339.7,680.0 1350.2,681.1 1360.7,682.7 1371.2,684.5" fill="none" stroke="#f0948a" stroke-width="3.4" stroke-linejoin="round" stroke-linecap="square"/>
<polyline points="1055.6,818.9 1066.1,809.7 1076.6,809.7 1087.1,810.3 1097.7,810.9 1108.2,811.5 1118.7,812.1 1129.2,815.8 1139.8,820.2 1150.3,826.3 1160.8,827.0 1171.3,826.7 1181.8,826.3 1192.4,832.5 1202.9,838.7 1213.4,839.9 1223.9,841.9 1234.4,844.6 1245.0,845.9 1255.5,847.3 1266.0,847.9 1276.5,848.6 1287.0,849.3 1297.6,849.7 1308.1,849.3 1318.6,849.3 1329.1,849.3 1339.7,849.7 1350.2,849.7 1360.7,849.7 1371.2,849.7" fill="none" stroke="#c992dd" stroke-width="3.4" stroke-linejoin="round" stroke-linecap="square"/>
<polyline points="1055.6,709.7 1066.1,695.5 1076.6,695.9 1087.1,695.9 1097.7,696.4 1108.2,697.1 1118.7,698.6 1129.2,701.1 1139.8,704.5 1150.3,703.8 1160.8,703.3 1171.3,702.9 1181.8,704.2 1192.4,711.6 1202.9,719.0 1213.4,720.6 1223.9,724.7 1234.4,729.4 1245.0,734.0 1255.5,739.4 1266.0,742.1 1276.5,745.4 1287.0,748.4 1297.6,749.4 1308.1,749.2 1318.6,751.5 1329.1,753.2 1339.7,755.1 1350.2,756.1 1360.7,757.2 1371.2,758.2" fill="none" stroke="#ffb470" stroke-width="3.4" stroke-linejoin="round" stroke-linecap="square"/>
<polyline points="1055.6,789.9 1066.1,777.0 1076.6,777.3 1087.1,778.2 1097.7,778.8 1108.2,779.4 1118.7,780.1 1129.2,786.2 1139.8,793.6 1150.3,805.4 1160.8,808.4 1171.3,806.0 1181.8,804.1 1192.4,810.9 1202.9,817.7 1213.4,819.1 1223.9,820.5 1234.4,823.1 1245.0,824.5 1255.5,826.1 1266.0,826.9 1276.5,827.4 1287.0,827.8 1297.6,828.8 1308.1,827.8 1318.6,828.2 1329.1,828.8 1339.7,829.2 1350.2,828.8 1360.7,828.8 1371.2,828.8" fill="none" stroke="#c2b2fb" stroke-width="3.4" stroke-linejoin="round" stroke-linecap="square"/>
<polyline points="1055.6,638.7 1066.1,625.2 1076.6,625.8 1087.1,627.3 1097.7,629.2 1108.2,630.1 1118.7,631.3 1129.2,638.7 1139.8,647.0 1150.3,653.6 1160.8,655.4 1171.3,655.4 1181.8,655.4 1192.4,663.4 1202.9,670.8 1213.4,673.7 1223.9,677.1 1234.4,683.1 1245.0,685.8 1255.5,690.5 1266.0,691.8 1276.5,694.2 1287.0,697.2 1297.6,697.9 1308.1,696.9 1318.6,698.3 1329.1,699.2 1339.7,700.1 1350.2,700.5 1360.7,700.9 1371.2,701.2" fill="none" stroke="#94fbb4" stroke-width="3.4" stroke-linejoin="round" stroke-linecap="square"/>
<polyline points="1055.6,680.7 1066.1,667.8 1076.6,668.0 1087.1,669.0 1097.7,669.6 1108.2,670.2 1118.7,671.5 1129.2,676.4 1139.8,681.6 1150.3,687.2 1160.8,687.7 1171.3,687.2 1181.8,687.2 1192.4,698.6 1202.9,712.2 1213.4,717.3 1223.9,722.0 1234.4,727.3 1245.0,731.4 1255.5,736.1 1266.0,738.1 1276.5,740.1 1287.0,742.1 1297.6,742.8 1308.1,742.5 1318.6,743.0 1329.1,743.8 1339.7,744.8 1350.2,745.2 1360.7,745.4 1371.2,745.7" fill="none" stroke="#ff6262" stroke-width="3.4" stroke-linejoin="round" stroke-linecap="square"/>
<polyline points="1055.6,690.6 1066.1,677.6 1076.6,677.9 1087.1,678.6 1097.7,679.1 1108.2,679.8 1118.7,681.1 1129.2,685.0 1139.8,689.3 1150.3,692.2 1160.8,692.7 1171.3,692.2 1181.8,691.8 1192.4,700.5 1202.9,707.9 1213.4,709.3 1223.9,712.6 1234.4,718.0 1245.0,721.3 1255.5,726.7 1266.0,728.7 1276.5,731.0 1287.0,733.4 1297.6,734.4 1308.1,733.6 1318.6,735.4 1329.1,736.7 1339.7,737.7 1350.2,738.5 1360.7,739.0 1371.2,739.8" fill="none" stroke="#000" stroke-width="6.6" stroke-linejoin="round" stroke-linecap="square"/>
<rect x="1039.80" y="543.70" width="347.20" height="347.10" fill="none" stroke="#000" stroke-width="2.1"/>
<path d="M1066.10 890.80v7.6M1171.32 890.80v7.6M1276.53 890.80v7.6M1381.74 890.80v7.6M1039.80 890.80h-7.6M1039.80 847.41h-7.6M1039.80 804.02h-7.6M1039.80 760.64h-7.6M1039.80 717.25h-7.6M1039.80 673.86h-7.6M1039.80 630.48h-7.6M1039.80 587.09h-7.6M1039.80 543.70h-7.6" stroke="#000" stroke-width="2.1" fill="none"/>
<text x="1027.39" y="908.41" font-size="33.0" text-anchor="end" font-weight="normal">0</text>
<text x="1027.39" y="821.64" font-size="33.0" text-anchor="end" font-weight="normal">50</text>
<text x="1027.39" y="734.86" font-size="33.0" text-anchor="end" font-weight="normal">100</text>
<text x="1027.39" y="648.09" font-size="33.0" text-anchor="end" font-weight="normal">150</text>
<text x="1027.39" y="561.31" font-size="33.0" text-anchor="end" font-weight="normal">200</text>
<text x="1066.30" y="932.09" font-size="37.0" text-anchor="middle" font-weight="normal">0</text>
<text x="1170.72" y="932.09" font-size="37.0" text-anchor="middle" font-weight="normal">10</text>
<text x="1275.13" y="932.09" font-size="37.0" text-anchor="middle" font-weight="normal">20</text>
<text x="1379.54" y="932.09" font-size="37.0" text-anchor="middle" font-weight="normal">30</text>
<path d="M200.91 989.50V1336.50M306.15 989.50V1336.50M411.40 989.50V1336.50M516.64 989.50V1336.50M174.60 1293.12H521.90M174.60 1249.75H521.90M174.60 1206.38H521.90M174.60 1163.00H521.90M174.60 1119.62H521.90M174.60 1076.25H521.90M174.60 1032.88H521.90" stroke="#a8a8a8" stroke-width="1.45" fill="none"/>
<polyline points="190.4,1203.4 200.9,1129.0 211.4,1148.8 222.0,1163.7 232.5,1166.2 243.0,1173.6 253.5,1171.8 264.1,1175.5 274.6,1179.8 285.1,1184.2 295.6,1184.2 306.2,1189.8 316.7,1185.4 327.2,1191.0 337.7,1194.1 348.2,1196.0 358.8,1198.2 369.3,1202.8 379.8,1204.0 390.3,1200.3 400.9,1209.6 411.4,1212.7 421.9,1216.4 432.4,1212.1 443.0,1218.2 453.5,1223.2 464.0,1222.5 474.5,1227.5 485.1,1233.0 495.6,1225.6 506.1,1234.9" fill="none" stroke="#62a8ce" stroke-width="3.4" stroke-linejoin="round" stroke-linecap="square"/>
<polyline points="190.4,1208.4 200.9,1026.7 211.4,1052.1 222.0,1085.6 227.2,1088.7 232.5,1090.6 243.0,1109.2 253.5,1098.6 264.1,1107.3 274.6,1120.3 285.1,1129.0 295.6,1124.0 306.2,1136.4 316.7,1129.0 327.2,1127.1 337.7,1134.0 348.2,1137.4 358.8,1130.6 369.3,1142.9 379.8,1145.2 390.3,1138.0 400.9,1152.6 411.4,1152.6 421.9,1159.6 432.4,1161.7 443.0,1165.8 453.5,1174.8 464.0,1175.3 474.5,1178.7 485.1,1188.0 495.6,1178.7 506.1,1196.6" fill="none" stroke="#7fd4b6" stroke-width="3.4" stroke-linejoin="round" stroke-linecap="square"/>
<polyline points="190.4,1203.4 200.9,1137.7 211.4,1158.8 222.0,1171.2 232.5,1172.4 243.0,1181.1 253.5,1178.6 264.1,1184.8 274.6,1191.0 285.1,1194.7 295.6,1196.0 306.2,1200.9 316.7,1197.8 327.2,1202.8 337.7,1205.3 348.2,1205.3 358.8,1207.7 369.3,1211.4 379.8,1212.7 390.3,1209.6 400.9,1217.0 411.4,1219.5 421.9,1223.2 432.4,1220.7 443.0,1226.9 453.5,1231.8 464.0,1231.8 474.5,1236.7 485.1,1241.1 495.6,1233.6 506.1,1241.7" fill="none" stroke="#fff39a" stroke-width="3.4" stroke-linejoin="round" stroke-linecap="square"/>
<polyline points="190.4,1238.1 200.9,1138.9 211.4,1160.0 222.0,1172.4 232.5,1172.4 243.0,1181.1 253.5,1178.6 264.1,1184.8 274.6,1191.0 285.1,1195.3 295.6,1196.0 306.2,1200.9 316.7,1198.4 327.2,1203.4 337.7,1205.9 348.2,1205.9 358.8,1208.3 369.3,1212.1 379.8,1213.3 390.3,1210.2 400.9,1217.6 411.4,1219.5 421.9,1223.8 432.4,1221.3 443.0,1227.5 453.5,1232.4 464.0,1231.8 474.5,1237.4 485.1,1241.1 495.6,1233.6 506.1,1242.3" fill="none" stroke="#ffb877" stroke-width="3.4" stroke-linejoin="round" stroke-linecap="square"/>
<polyline points="190.4,1203.4 200.9,1140.2 211.4,1161.2 222.0,1173.6 232.5,1176.1 243.0,1183.6 253.5,1181.1 264.1,1186.7 274.6,1192.2 285.1,1196.6 295.6,1198.4 306.2,1204.0 316.7,1199.7 327.2,1204.6 337.7,1207.7 348.2,1207.1 358.8,1209.6 369.3,1213.3 379.8,1214.5 390.3,1211.4 400.9,1218.2 411.4,1221.9 421.9,1225.6 432.4,1221.9 443.0,1228.1 453.5,1233.6 464.0,1233.6 474.5,1238.0 485.1,1242.9 495.6,1235.5 506.1,1242.9" fill="none" stroke="#f0948a" stroke-width="3.4" stroke-linejoin="round" stroke-linecap="square"/>
<polyline points="190.4,1203.4 200.9,1027.9 211.4,1068.2 222.0,1086.8 232.5,1098.0 243.0,1115.4 253.5,1117.2 264.1,1124.7 274.6,1130.2 285.1,1136.4 295.6,1135.8 306.2,1147.0 316.7,1147.0 327.2,1147.0 337.7,1154.4 348.2,1157.8 358.8,1162.1 369.3,1171.3 379.8,1173.8 390.3,1173.8 400.9,1176.0 411.4,1184.9 421.9,1191.1 432.4,1191.7 443.0,1196.0 453.5,1202.2 464.0,1205.3 474.5,1206.5 485.1,1216.4 495.6,1214.5 506.1,1226.2" fill="none" stroke="#c992dd" stroke-width="3.4" stroke-linejoin="round" stroke-linecap="square"/>
<polyline points="190.4,1238.1 200.9,1090.6 211.4,1120.3 222.0,1140.8 232.5,1145.7 243.0,1160.6 253.5,1149.5 264.1,1160.6 274.6,1163.7 285.1,1168.7 295.6,1168.1 306.2,1176.7 316.7,1169.9 327.2,1173.6 337.7,1178.6 348.2,1181.2 358.8,1181.4 369.3,1185.9 379.8,1186.4 390.3,1182.2 400.9,1191.7 411.4,1196.6 421.9,1200.9 432.4,1197.0 443.0,1204.0 453.5,1210.6 464.0,1207.1 474.5,1212.7 485.1,1221.9 495.6,1211.1 506.1,1223.2" fill="none" stroke="#ffb470" stroke-width="3.4" stroke-linejoin="round" stroke-linecap="square"/>
<polyline points="190.4,1203.4 200.9,1013.7 211.4,1039.7 222.0,1074.4 232.5,1094.3 243.0,1130.2 253.5,1132.1 264.1,1140.8 274.6,1145.1 285.1,1151.3 295.6,1148.8 306.2,1156.9 316.7,1159.4 327.2,1157.5 337.7,1163.1 348.2,1163.3 358.8,1167.0 369.3,1173.2 379.8,1175.6 390.3,1174.8 400.9,1177.5 411.4,1185.5 421.9,1191.1 432.4,1190.5 443.0,1189.8 453.5,1194.8 464.0,1197.9 474.5,1201.6 485.1,1207.7 495.6,1207.7 506.1,1217.6" fill="none" stroke="#c2b2fb" stroke-width="3.4" stroke-linejoin="round" stroke-linecap="square"/>
<polyline points="190.4,1202.2 200.9,1143.9 211.4,1166.2 222.0,1178.6 232.5,1180.5 243.0,1186.0 253.5,1185.4 264.1,1191.0 274.6,1196.6 285.1,1197.8 295.6,1199.7 306.2,1200.9 316.7,1197.8 327.2,1202.2 337.7,1204.6 348.2,1204.6 358.8,1207.1 369.3,1210.2 379.8,1210.8 390.3,1208.3 400.9,1215.8 411.4,1218.2 421.9,1221.7 432.4,1219.5 443.0,1226.2 453.5,1231.2 464.0,1231.2 474.5,1236.1 485.1,1240.4 495.6,1234.3 506.1,1240.4" fill="none" stroke="#94fbb4" stroke-width="3.4" stroke-linejoin="round" stroke-linecap="square"/>
<polyline points="190.4,1205.9 200.9,1102.3 211.4,1136.4 222.0,1172.4 232.5,1178.6 243.0,1188.5 253.5,1187.3 264.1,1193.5 274.6,1199.1 285.1,1199.7 295.6,1198.4 306.2,1202.2 316.7,1202.2 327.2,1200.9 337.7,1207.1 348.2,1209.0 358.8,1211.4 369.3,1220.7 379.8,1217.6 390.3,1218.8 400.9,1221.9 411.4,1225.6 421.9,1231.8 432.4,1228.7 443.0,1233.0 453.5,1237.4 464.0,1237.4 474.5,1241.7 485.1,1244.8 495.6,1242.3 506.1,1250.9" fill="none" stroke="#ff6262" stroke-width="3.4" stroke-linejoin="round" stroke-linecap="square"/>
<polyline points="190.4,1199.1 200.9,1124.0 211.4,1147.6 222.0,1163.1 232.5,1165.0 243.0,1174.3 253.5,1171.8 264.1,1177.4 274.6,1183.6 285.1,1187.9 295.6,1188.5 306.2,1194.7 316.7,1189.1 327.2,1193.5 337.7,1197.8 348.2,1197.2 358.8,1199.5 369.3,1204.0 379.8,1205.3 390.3,1201.6 400.9,1210.8 411.4,1213.9 421.9,1217.6 432.4,1213.3 443.0,1219.5 453.5,1224.4 464.0,1223.8 474.5,1228.7 485.1,1234.3 495.6,1226.9 506.1,1236.1" fill="none" stroke="#000" stroke-width="6.6" stroke-linejoin="round" stroke-linecap="square"/>
<rect x="174.60" y="989.50" width="347.30" height="347.00" fill="none" stroke="#000" stroke-width="2.1"/>
<path d="M200.91 1336.50v7.6M306.15 1336.50v7.6M411.40 1336.50v7.6M516.64 1336.50v7.6M174.60 1336.50h-7.6M174.60 1293.12h-7.6M174.60 1249.75h-7.6M174.60 1206.38h-7.6M174.60 1163.00h-7.6M174.60 1119.62h-7.6M174.60 1076.25h-7.6M174.60 1032.88h-7.6M174.60 989.50h-7.6" stroke="#000" stroke-width="2.1" fill="none"/>
<text x="160.19" y="1352.71" font-size="33.0" text-anchor="end" font-weight="normal">20</text>
<text x="160.19" y="1265.96" font-size="33.0" text-anchor="end" font-weight="normal">40</text>
<text x="160.19" y="1179.21" font-size="33.0" text-anchor="end" font-weight="normal">60</text>
<text x="160.19" y="1092.46" font-size="33.0" text-anchor="end" font-weight="normal">80</text>
<text x="160.19" y="1005.71" font-size="33.0" text-anchor="end" font-weight="normal">100</text>
<text x="201.11" y="1377.79" font-size="37.0" text-anchor="middle" font-weight="normal">0</text>
<text x="305.55" y="1377.79" font-size="37.0" text-anchor="middle" font-weight="normal">10</text>
<text x="410.00" y="1377.79" font-size="37.0" text-anchor="middle" font-weight="normal">20</text>
<text x="514.44" y="1377.79" font-size="37.0" text-anchor="middle" font-weight="normal">30</text>
<path d="M633.20 989.50V1336.50M738.42 989.50V1336.50M843.63 989.50V1336.50M948.84 989.50V1336.50M606.90 1293.12H954.10M606.90 1249.75H954.10M606.90 1206.38H954.10M606.90 1163.00H954.10M606.90 1119.62H954.10M606.90 1076.25H954.10M606.90 1032.88H954.10" stroke="#a8a8a8" stroke-width="1.45" fill="none"/>
<polyline points="622.7,1201.9 633.2,1177.2 643.7,1182.2 654.2,1191.4 664.8,1192.7 675.3,1194.5 685.8,1198.2 696.3,1203.8 706.9,1209.3 717.4,1209.3 727.9,1213.0 738.4,1211.2 748.9,1216.7 759.5,1221.7 770.0,1221.1 780.5,1223.1 791.0,1224.4 801.5,1226.6 812.1,1227.6 822.6,1223.8 833.1,1231.4 843.6,1230.8 854.1,1235.5 864.7,1236.7 875.2,1235.2 885.7,1241.6 896.2,1240.3 906.8,1243.5 917.3,1247.6 927.8,1247.6 938.3,1246.1" fill="none" stroke="#62a8ce" stroke-width="3.4" stroke-linejoin="round" stroke-linecap="square"/>
<polyline points="622.7,1187.1 633.2,1116.2 643.7,1129.1 654.2,1146.4 664.8,1155.0 675.3,1155.0 685.8,1162.4 696.3,1175.4 706.9,1191.4 717.4,1186.5 727.9,1192.3 738.4,1189.6 748.9,1198.8 759.5,1206.9 770.0,1209.9 780.5,1209.8 791.0,1213.6 801.5,1212.1 812.1,1220.6 822.6,1214.9 833.1,1225.3 843.6,1226.3 854.1,1229.5 864.7,1230.1 875.2,1227.6 885.7,1233.9 896.2,1234.2 906.8,1236.2 917.3,1238.4 927.8,1238.0 938.3,1239.3" fill="none" stroke="#7fd4b6" stroke-width="3.4" stroke-linejoin="round" stroke-linecap="square"/>
<polyline points="622.7,1201.9 633.2,1178.5 643.7,1186.5 654.2,1195.8 664.8,1196.4 675.3,1198.2 685.8,1201.3 696.3,1207.5 706.9,1212.4 717.4,1212.4 727.9,1214.9 738.4,1213.0 748.9,1218.6 759.5,1223.5 770.0,1224.1 780.5,1226.3 791.0,1227.6 801.5,1228.9 812.1,1228.5 822.6,1228.2 833.1,1230.8 843.6,1233.3 854.1,1236.8 864.7,1240.3 875.2,1241.9 885.7,1243.5 896.2,1244.7 906.8,1246.0 917.3,1249.4 927.8,1249.0 938.3,1248.5" fill="none" stroke="#fff39a" stroke-width="3.4" stroke-linejoin="round" stroke-linecap="square"/>
<polyline points="622.7,1201.9 633.2,1179.1 643.7,1187.1 654.2,1197.0 664.8,1197.0 675.3,1198.8 685.8,1201.9 696.3,1208.1 706.9,1213.0 717.4,1213.0 727.9,1215.5 738.4,1213.6 748.9,1219.2 759.5,1224.1 770.0,1224.8 780.5,1227.3 791.0,1228.4 801.5,1229.5 812.1,1229.0 822.6,1228.6 833.1,1231.1 843.6,1233.7 854.1,1237.1 864.7,1240.5 875.2,1242.3 885.7,1244.1 896.2,1245.4 906.8,1246.6 917.3,1249.8 927.8,1249.5 938.3,1249.2" fill="none" stroke="#ffb877" stroke-width="3.4" stroke-linejoin="round" stroke-linecap="square"/>
<polyline points="622.7,1201.9 633.2,1180.3 643.7,1188.3 654.2,1198.2 664.8,1198.8 675.3,1200.7 685.8,1203.8 696.3,1209.9 706.9,1214.9 717.4,1214.3 727.9,1216.7 738.4,1215.3 748.9,1220.4 759.5,1226.0 770.0,1226.6 780.5,1228.2 791.0,1229.3 801.5,1230.4 812.1,1229.7 822.6,1229.1 833.1,1231.7 843.6,1234.2 854.1,1237.6 864.7,1240.9 875.2,1242.8 885.7,1244.7 896.2,1246.0 906.8,1247.3 917.3,1250.2 927.8,1249.8 938.3,1249.4" fill="none" stroke="#f0948a" stroke-width="3.4" stroke-linejoin="round" stroke-linecap="square"/>
<polyline points="622.7,1249.7 633.2,1113.1 643.7,1122.9 654.2,1134.7 664.8,1141.5 675.3,1143.3 685.8,1150.7 696.3,1162.4 706.9,1172.6 717.4,1172.3 727.9,1177.9 738.4,1177.9 748.9,1186.5 759.5,1193.9 770.0,1198.2 780.5,1200.9 791.0,1200.7 801.5,1203.2 812.1,1206.0 822.6,1203.2 833.1,1207.9 843.6,1209.6 854.1,1215.5 864.7,1220.2 875.2,1217.2 885.7,1227.3 896.2,1227.3 906.8,1230.1 917.3,1233.3 927.8,1233.7 938.3,1232.4" fill="none" stroke="#c992dd" stroke-width="3.4" stroke-linejoin="round" stroke-linecap="square"/>
<polyline points="622.7,1195.8 633.2,1146.4 643.7,1161.2 654.2,1177.9 664.8,1182.8 675.3,1182.2 685.8,1188.3 696.3,1194.5 706.9,1205.6 717.4,1205.6 727.9,1208.1 738.4,1206.9 748.9,1215.5 759.5,1222.9 770.0,1225.4 780.5,1227.6 791.0,1228.5 801.5,1229.5 812.1,1228.5 822.6,1227.6 833.1,1230.8 843.6,1233.9 854.1,1237.1 864.7,1240.3 875.2,1242.3 885.7,1244.3 896.2,1245.5 906.8,1246.6 917.3,1250.4 927.8,1249.7 938.3,1248.9" fill="none" stroke="#ffb470" stroke-width="3.4" stroke-linejoin="round" stroke-linecap="square"/>
<polyline points="622.7,1245.1 633.2,1089.0 643.7,1105.7 654.2,1119.2 664.8,1126.6 675.3,1127.9 685.8,1135.3 696.3,1146.4 706.9,1161.2 717.4,1160.0 727.9,1165.5 738.4,1166.8 748.9,1173.5 759.5,1180.3 770.0,1185.9 780.5,1188.9 791.0,1186.7 801.5,1191.4 812.1,1191.8 822.6,1188.2 833.1,1193.3 843.6,1194.3 854.1,1200.7 864.7,1206.6 875.2,1201.9 885.7,1212.6 896.2,1213.0 906.8,1214.6 917.3,1219.7 927.8,1221.0 938.3,1218.1" fill="none" stroke="#c2b2fb" stroke-width="3.4" stroke-linejoin="round" stroke-linecap="square"/>
<polyline points="622.7,1195.8 633.2,1178.5 643.7,1183.4 654.2,1186.5 664.8,1185.9 675.3,1187.1 685.8,1190.2 696.3,1194.5 706.9,1200.1 717.4,1200.7 727.9,1204.4 738.4,1203.2 748.9,1208.1 759.5,1212.4 770.0,1212.4 780.5,1214.9 791.0,1214.9 801.5,1216.8 812.1,1217.7 822.6,1214.9 833.1,1220.0 843.6,1219.3 854.1,1223.8 864.7,1225.0 875.2,1224.4 885.7,1229.5 896.2,1229.5 906.8,1231.7 917.3,1234.6 927.8,1234.6 938.3,1233.7" fill="none" stroke="#94fbb4" stroke-width="3.4" stroke-linejoin="round" stroke-linecap="square"/>
<polyline points="622.7,1220.4 633.2,1181.6 643.7,1191.4 654.2,1200.1 664.8,1202.5 675.3,1203.8 685.8,1205.6 696.3,1211.8 706.9,1218.6 717.4,1214.9 727.9,1218.0 738.4,1216.7 748.9,1221.7 759.5,1227.2 770.0,1227.8 780.5,1228.9 791.0,1228.9 801.5,1231.7 812.1,1231.7 822.6,1229.5 833.1,1235.0 843.6,1234.2 854.1,1239.0 864.7,1241.6 875.2,1238.4 885.7,1245.1 896.2,1244.1 906.8,1246.6 917.3,1249.4 927.8,1249.8 938.3,1248.2" fill="none" stroke="#ff6262" stroke-width="3.4" stroke-linejoin="round" stroke-linecap="square"/>
<polyline points="622.7,1206.2 633.2,1171.7 643.7,1178.5 654.2,1189.6 664.8,1190.2 675.3,1192.1 685.8,1196.4 696.3,1201.9 706.9,1207.5 717.4,1207.5 727.9,1211.2 738.4,1209.9 748.9,1215.5 759.5,1220.4 770.0,1219.8 780.5,1221.2 791.0,1222.8 801.5,1224.8 812.1,1226.1 822.6,1221.9 833.1,1229.5 843.6,1228.9 854.1,1233.7 864.7,1235.0 875.2,1233.3 885.7,1239.6 896.2,1238.4 906.8,1241.6 917.3,1245.6 927.8,1245.6 938.3,1244.1" fill="none" stroke="#000" stroke-width="6.6" stroke-linejoin="round" stroke-linecap="square"/>
<rect x="606.90" y="989.50" width="347.20" height="347.00" fill="none" stroke="#000" stroke-width="2.1"/>
<path d="M633.20 1336.50v7.6M738.42 1336.50v7.6M843.63 1336.50v7.6M948.84 1336.50v7.6M606.90 1336.50h-7.6M606.90 1293.12h-7.6M606.90 1249.75h-7.6M606.90 1206.38h-7.6M606.90 1163.00h-7.6M606.90 1119.62h-7.6M606.90 1076.25h-7.6M606.90 1032.88h-7.6M606.90 989.50h-7.6" stroke="#000" stroke-width="2.1" fill="none"/>
<text x="595.29" y="1354.11" font-size="33.0" text-anchor="end" font-weight="normal">20</text>
<text x="595.29" y="1267.36" font-size="33.0" text-anchor="end" font-weight="normal">40</text>
<text x="595.29" y="1180.61" font-size="33.0" text-anchor="end" font-weight="normal">60</text>
<text x="595.29" y="1093.86" font-size="33.0" text-anchor="end" font-weight="normal">80</text>
<text x="595.29" y="1007.11" font-size="33.0" text-anchor="end" font-weight="normal">100</text>
<text x="633.40" y="1377.79" font-size="37.0" text-anchor="middle" font-weight="normal">0</text>
<text x="737.82" y="1377.79" font-size="37.0" text-anchor="middle" font-weight="normal">10</text>
<text x="842.23" y="1377.79" font-size="37.0" text-anchor="middle" font-weight="normal">20</text>
<text x="946.64" y="1377.79" font-size="37.0" text-anchor="middle" font-weight="normal">30</text>
<path d="M1066.10 989.50V1336.50M1171.32 989.50V1336.50M1276.53 989.50V1336.50M1381.74 989.50V1336.50M1039.80 1293.12H1387.00M1039.80 1249.75H1387.00M1039.80 1206.38H1387.00M1039.80 1163.00H1387.00M1039.80 1119.62H1387.00M1039.80 1076.25H1387.00M1039.80 1032.88H1387.00" stroke="#a8a8a8" stroke-width="1.45" fill="none"/>
<polyline points="1055.6,1206.6 1066.1,1219.0 1076.6,1219.0 1087.1,1219.6 1097.7,1220.2 1108.2,1220.8 1118.7,1221.5 1129.2,1222.1 1139.8,1222.9 1150.3,1224.2 1160.8,1224.9 1171.3,1222.7 1181.8,1221.5 1192.4,1220.8 1202.9,1224.4 1213.4,1232.5 1223.9,1232.5 1234.4,1235.8 1245.0,1238.5 1255.5,1241.8 1266.0,1243.2 1276.5,1247.2 1287.0,1248.3 1297.6,1253.9 1308.1,1255.5 1318.6,1257.6 1329.1,1258.6 1339.7,1261.3 1350.2,1262.6 1360.7,1264.6 1371.2,1265.3" fill="none" stroke="#62a8ce" stroke-width="3.4" stroke-linejoin="round" stroke-linecap="square"/>
<polyline points="1055.6,1209.1 1066.1,1233.2 1076.6,1232.8 1087.1,1235.0 1097.7,1236.0 1108.2,1235.3 1118.7,1233.8 1129.2,1235.6 1139.8,1241.8 1150.3,1242.4 1160.8,1243.1 1171.3,1242.4 1181.8,1245.9 1192.4,1248.6 1202.9,1253.2 1213.4,1269.3 1223.9,1268.6 1234.4,1274.7 1245.0,1280.7 1255.5,1286.7 1266.0,1294.1 1276.5,1298.8 1287.0,1302.4 1297.6,1312.8 1308.1,1316.6 1318.6,1320.2 1329.1,1321.6 1339.7,1323.6 1350.2,1325.6 1360.7,1326.9 1371.2,1328.3" fill="none" stroke="#7fd4b6" stroke-width="3.4" stroke-linejoin="round" stroke-linecap="square"/>
<polyline points="1055.6,1206.6 1066.1,1222.1 1076.6,1222.4 1087.1,1222.7 1097.7,1222.7 1108.2,1222.4 1118.7,1222.1 1129.2,1221.7 1139.8,1222.4 1150.3,1221.7 1160.8,1221.5 1171.3,1221.5 1181.8,1220.8 1192.4,1220.2 1202.9,1222.0 1213.4,1228.7 1223.9,1228.7 1234.4,1232.2 1245.0,1234.9 1255.5,1238.1 1266.0,1241.8 1276.5,1244.5 1287.0,1245.6 1297.6,1250.9 1308.1,1252.3 1318.6,1255.0 1329.1,1255.9 1339.7,1258.2 1350.2,1259.5 1360.7,1261.7 1371.2,1261.9" fill="none" stroke="#fff39a" stroke-width="3.4" stroke-linejoin="round" stroke-linecap="square"/>
<polyline points="1055.6,1206.6 1066.1,1226.4 1076.6,1226.6 1087.1,1227.0 1097.7,1227.0 1108.2,1226.4 1118.7,1225.2 1129.2,1224.5 1139.8,1224.9 1150.3,1222.9 1160.8,1222.4 1171.3,1222.1 1181.8,1221.7 1192.4,1221.5 1202.9,1222.4 1213.4,1229.1 1223.9,1229.1 1234.4,1232.5 1245.0,1235.1 1255.5,1238.5 1266.0,1242.1 1276.5,1244.8 1287.0,1245.9 1297.6,1251.2 1308.1,1252.6 1318.6,1255.2 1329.1,1256.3 1339.7,1258.6 1350.2,1259.9 1360.7,1261.9 1371.2,1262.2" fill="none" stroke="#ffb877" stroke-width="3.4" stroke-linejoin="round" stroke-linecap="square"/>
<polyline points="1055.6,1206.6 1066.1,1221.7 1076.6,1222.1 1087.1,1222.4 1097.7,1222.4 1108.2,1222.1 1118.7,1221.5 1129.2,1221.5 1139.8,1222.1 1150.3,1221.5 1160.8,1221.5 1171.3,1221.5 1181.8,1221.2 1192.4,1220.8 1202.9,1223.1 1213.4,1229.8 1223.9,1229.8 1234.4,1233.1 1245.0,1235.8 1255.5,1239.2 1266.0,1242.5 1276.5,1245.2 1287.0,1246.5 1297.6,1251.9 1308.1,1253.2 1318.6,1255.9 1329.1,1256.8 1339.7,1259.3 1350.2,1260.6 1360.7,1262.6 1371.2,1263.0" fill="none" stroke="#f0948a" stroke-width="3.4" stroke-linejoin="round" stroke-linecap="square"/>
<polyline points="1055.6,1209.1 1066.1,1241.4 1076.6,1241.4 1087.1,1239.3 1097.7,1238.1 1108.2,1236.9 1118.7,1235.0 1129.2,1227.9 1139.8,1225.2 1150.3,1199.2 1160.8,1194.3 1171.3,1194.3 1181.8,1195.8 1192.4,1184.4 1202.9,1175.1 1213.4,1179.9 1223.9,1178.2 1234.4,1180.2 1245.0,1182.6 1255.5,1185.6 1266.0,1188.2 1276.5,1189.3 1287.0,1190.9 1297.6,1194.9 1308.1,1196.9 1318.6,1198.3 1329.1,1198.7 1339.7,1201.9 1350.2,1203.6 1360.7,1206.7 1371.2,1208.6" fill="none" stroke="#c992dd" stroke-width="3.4" stroke-linejoin="round" stroke-linecap="square"/>
<polyline points="1055.6,1209.1 1066.1,1227.9 1076.6,1227.9 1087.1,1228.6 1097.7,1228.9 1108.2,1227.6 1118.7,1226.4 1129.2,1227.0 1139.8,1230.7 1150.3,1231.6 1160.8,1232.3 1171.3,1231.9 1181.8,1233.5 1192.4,1233.2 1202.9,1235.1 1213.4,1248.5 1223.9,1248.5 1234.4,1254.6 1245.0,1258.6 1255.5,1264.6 1266.0,1270.6 1276.5,1274.0 1287.0,1276.4 1297.6,1284.0 1308.1,1286.3 1318.6,1290.3 1329.1,1291.4 1339.7,1294.8 1350.2,1296.8 1360.7,1298.1 1371.2,1299.2" fill="none" stroke="#ffb470" stroke-width="3.4" stroke-linejoin="round" stroke-linecap="square"/>
<polyline points="1055.6,1209.1 1066.1,1242.7 1076.6,1242.7 1087.1,1241.2 1097.7,1240.2 1108.2,1239.3 1118.7,1237.2 1129.2,1228.9 1139.8,1225.2 1150.3,1191.8 1160.8,1184.4 1171.3,1187.5 1181.8,1192.5 1192.4,1183.4 1202.9,1177.8 1213.4,1184.9 1223.9,1185.3 1234.4,1188.2 1245.0,1190.6 1255.5,1194.7 1266.0,1198.7 1276.5,1200.0 1287.0,1202.3 1297.6,1205.9 1308.1,1208.6 1318.6,1209.9 1329.1,1209.9 1339.7,1214.0 1350.2,1216.1 1360.7,1219.3 1371.2,1220.4" fill="none" stroke="#c2b2fb" stroke-width="3.4" stroke-linejoin="round" stroke-linecap="square"/>
<polyline points="1055.6,1206.6 1066.1,1221.5 1076.6,1220.8 1087.1,1219.6 1097.7,1218.0 1108.2,1217.1 1118.7,1215.5 1129.2,1212.2 1139.8,1209.1 1150.3,1204.2 1160.8,1202.9 1171.3,1202.9 1181.8,1203.9 1192.4,1201.7 1202.9,1201.0 1213.4,1206.3 1223.9,1205.9 1234.4,1209.0 1245.0,1210.7 1255.5,1213.0 1266.0,1215.7 1276.5,1217.7 1287.0,1219.7 1297.6,1223.7 1308.1,1224.4 1318.6,1225.8 1329.1,1225.8 1339.7,1228.7 1350.2,1229.8 1360.7,1231.8 1371.2,1233.1" fill="none" stroke="#94fbb4" stroke-width="3.4" stroke-linejoin="round" stroke-linecap="square"/>
<polyline points="1055.6,1206.6 1066.1,1222.1 1076.6,1222.1 1087.1,1221.5 1097.7,1220.8 1108.2,1219.6 1118.7,1218.7 1129.2,1218.0 1139.8,1219.0 1150.3,1215.3 1160.8,1215.5 1171.3,1215.9 1181.8,1215.5 1192.4,1210.3 1202.9,1205.0 1213.4,1209.9 1223.9,1209.0 1234.4,1211.7 1245.0,1213.4 1255.5,1215.7 1266.0,1217.4 1276.5,1219.1 1287.0,1220.1 1297.6,1223.7 1308.1,1224.1 1318.6,1225.8 1329.1,1225.8 1339.7,1228.2 1350.2,1229.1 1360.7,1231.1 1371.2,1232.2" fill="none" stroke="#ff6262" stroke-width="3.4" stroke-linejoin="round" stroke-linecap="square"/>
<polyline points="1055.6,1204.2 1066.1,1225.2 1076.6,1224.9 1087.1,1224.9 1097.7,1224.9 1108.2,1224.2 1118.7,1222.7 1129.2,1220.8 1139.8,1222.1 1150.3,1218.0 1160.8,1217.5 1171.3,1217.5 1181.8,1219.0 1192.4,1215.9 1202.9,1216.6 1213.4,1224.7 1223.9,1224.4 1234.4,1227.8 1245.0,1230.4 1255.5,1233.8 1266.0,1237.5 1276.5,1239.4 1287.0,1240.8 1297.6,1246.5 1308.1,1247.9 1318.6,1249.9 1329.1,1250.9 1339.7,1253.6 1350.2,1255.0 1360.7,1257.2 1371.2,1257.9" fill="none" stroke="#000" stroke-width="6.6" stroke-linejoin="round" stroke-linecap="square"/>
<rect x="1039.80" y="989.50" width="347.20" height="347.00" fill="none" stroke="#000" stroke-width="2.1"/>
<path d="M1066.10 1336.50v7.6M1171.32 1336.50v7.6M1276.53 1336.50v7.6M1381.74 1336.50v7.6M1039.80 1336.50h-7.6M1039.80 1293.12h-7.6M1039.80 1249.75h-7.6M1039.80 1206.38h-7.6M1039.80 1163.00h-7.6M1039.80 1119.62h-7.6M1039.80 1076.25h-7.6M1039.80 1032.88h-7.6M1039.80 989.50h-7.6" stroke="#000" stroke-width="2.1" fill="none"/>
<text x="1027.39" y="1354.11" font-size="33.0" text-anchor="end" font-weight="normal">20</text>
<text x="1027.39" y="1267.36" font-size="33.0" text-anchor="end" font-weight="normal">40</text>
<text x="1027.39" y="1180.61" font-size="33.0" text-anchor="end" font-weight="normal">60</text>
<text x="1027.39" y="1093.86" font-size="33.0" text-anchor="end" font-weight="normal">80</text>
<text x="1027.39" y="1007.11" font-size="33.0" text-anchor="end" font-weight="normal">100</text>
<text x="1066.30" y="1377.79" font-size="37.0" text-anchor="middle" font-weight="normal">0</text>
<text x="1170.72" y="1377.79" font-size="37.0" text-anchor="middle" font-weight="normal">10</text>
<text x="1275.13" y="1377.79" font-size="37.0" text-anchor="middle" font-weight="normal">20</text>
<text x="1379.54" y="1377.79" font-size="37.0" text-anchor="middle" font-weight="normal">30</text>
<path d="M273.83 1434.90V1782.30M373.06 1434.90V1782.30M472.29 1434.90V1782.30M174.60 1749.08H521.90M174.60 1674.07H521.90M174.60 1614.28H521.90M174.60 1554.49H521.90M174.60 1494.69H521.90" stroke="#a8a8a8" stroke-width="1.45" fill="none"/>
<path d="M175.30 1782.30L175.30 1495.60L178.50 1522.00L182.40 1555.00L185.90 1615.00L187.60 1656.00L189.30 1675.00L190.20 1700.00L190.20 1782.30Z" fill="#aed4ea"/>
<rect x="174.60" y="1434.90" width="347.30" height="347.40" fill="none" stroke="#000" stroke-width="2.1"/>
<path d="M174.60 1782.30v7.6M273.83 1782.30v7.6M373.06 1782.30v7.6M472.29 1782.30v7.6M174.60 1782.30h-7.6M174.60 1749.08h-7.6M174.60 1674.07h-7.6M174.60 1614.28h-7.6M174.60 1554.49h-7.6M174.60 1494.69h-7.6M174.60 1434.90h-7.6" stroke="#000" stroke-width="2.1" fill="none"/>
<text x="162.79" y="1792.26" font-size="33.0" text-anchor="end" font-weight="normal">0</text>
<text x="150.01" y="1766.10" font-size="33.0" text-anchor="end" font-weight="normal">10</text>
<text x="161.58" y="1756.20" font-size="21.0" text-anchor="end" font-weight="normal">0</text>
<text x="150.01" y="1691.08" font-size="33.0" text-anchor="end" font-weight="normal">10</text>
<text x="161.58" y="1681.19" font-size="21.0" text-anchor="end" font-weight="normal">1</text>
<text x="161.19" y="1631.49" font-size="33.0" text-anchor="end" font-weight="normal">10</text>
<text x="161.92" y="1649.95" font-size="22" text-anchor="end" font-weight="normal">2</text>
<text x="150.01" y="1571.50" font-size="33.0" text-anchor="end" font-weight="normal">10</text>
<text x="161.58" y="1561.60" font-size="21.0" text-anchor="end" font-weight="normal">3</text>
<text x="150.01" y="1511.71" font-size="33.0" text-anchor="end" font-weight="normal">10</text>
<text x="161.58" y="1501.81" font-size="21.0" text-anchor="end" font-weight="normal">4</text>
<text x="150.01" y="1451.91" font-size="33.0" text-anchor="end" font-weight="normal">10</text>
<text x="161.58" y="1442.02" font-size="21.0" text-anchor="end" font-weight="normal">5</text>
<text x="178.20" y="1819.43" font-size="33.0" text-anchor="middle" font-weight="normal">0.00</text>
<text x="273.83" y="1819.43" font-size="33.0" text-anchor="middle" font-weight="normal">0.02</text>
<text x="373.06" y="1819.43" font-size="33.0" text-anchor="middle" font-weight="normal">0.04</text>
<text x="472.29" y="1819.43" font-size="33.0" text-anchor="middle" font-weight="normal">0.06</text>
<path d="M706.10 1434.90V1782.30M805.30 1434.90V1782.30M904.50 1434.90V1782.30M606.90 1749.08H954.10M606.90 1674.07H954.10M606.90 1614.28H954.10M606.90 1554.49H954.10M606.90 1494.69H954.10" stroke="#a8a8a8" stroke-width="1.45" fill="none"/>
<path d="M607.60 1782.30L607.60 1495.60L613.00 1519.00L617.60 1555.00L622.20 1615.00L624.10 1645.00L625.40 1674.00L626.70 1683.00L626.70 1713.00L628.70 1713.00L628.70 1782.30Z" fill="#aed4ea"/>
<rect x="606.90" y="1434.90" width="347.20" height="347.40" fill="none" stroke="#000" stroke-width="2.1"/>
<path d="M606.90 1782.30v7.6M706.10 1782.30v7.6M805.30 1782.30v7.6M904.50 1782.30v7.6" stroke="#000" stroke-width="2.1" fill="none"/>
<text x="599.49" y="1793.11" font-size="33.0" text-anchor="end" font-weight="normal">0</text>
<text x="586.71" y="1764.80" font-size="33.0" text-anchor="end" font-weight="normal">10</text>
<text x="598.28" y="1754.90" font-size="21.0" text-anchor="end" font-weight="normal">0</text>
<text x="586.71" y="1689.78" font-size="33.0" text-anchor="end" font-weight="normal">10</text>
<text x="598.28" y="1679.89" font-size="21.0" text-anchor="end" font-weight="normal">1</text>
<text x="597.89" y="1631.49" font-size="33.0" text-anchor="end" font-weight="normal">10</text>
<text x="598.62" y="1649.95" font-size="22" text-anchor="end" font-weight="normal">2</text>
<text x="586.71" y="1570.20" font-size="33.0" text-anchor="end" font-weight="normal">10</text>
<text x="598.28" y="1560.30" font-size="21.0" text-anchor="end" font-weight="normal">3</text>
<text x="586.71" y="1510.41" font-size="33.0" text-anchor="end" font-weight="normal">10</text>
<text x="598.28" y="1500.51" font-size="21.0" text-anchor="end" font-weight="normal">4</text>
<text x="586.71" y="1450.61" font-size="33.0" text-anchor="end" font-weight="normal">10</text>
<text x="598.28" y="1440.72" font-size="21.0" text-anchor="end" font-weight="normal">5</text>
<text x="610.50" y="1819.43" font-size="33.0" text-anchor="middle" font-weight="normal">0.00</text>
<text x="706.10" y="1819.43" font-size="33.0" text-anchor="middle" font-weight="normal">0.02</text>
<text x="805.30" y="1819.43" font-size="33.0" text-anchor="middle" font-weight="normal">0.04</text>
<text x="904.50" y="1819.43" font-size="33.0" text-anchor="middle" font-weight="normal">0.06</text>
<path d="M1139.00 1434.90V1782.30M1238.20 1434.90V1782.30M1337.40 1434.90V1782.30M1039.80 1749.08H1387.00M1039.80 1674.07H1387.00M1039.80 1614.28H1387.00M1039.80 1554.49H1387.00M1039.80 1494.69H1387.00" stroke="#a8a8a8" stroke-width="1.45" fill="none"/>
<path d="M1040.60 1782.30V1498.25H1043.50V1782.30ZM1043.45 1782.30V1498.90H1046.34V1782.30ZM1046.29 1782.30V1499.82H1049.19V1782.30ZM1049.14 1782.30V1501.51H1052.03V1782.30ZM1051.98 1782.30V1504.12H1054.88V1782.30ZM1054.83 1782.30V1506.73H1057.72V1782.30ZM1057.67 1782.30V1509.99H1060.57V1782.30ZM1060.52 1782.30V1513.64H1063.41V1782.30ZM1063.36 1782.30V1517.81H1066.26V1782.30ZM1066.21 1782.30V1522.37H1069.10V1782.30ZM1069.05 1782.30V1528.24H1071.95V1782.30ZM1071.90 1782.30V1533.46H1074.79V1782.30ZM1074.74 1782.30V1540.63H1077.64V1782.30ZM1077.59 1782.30V1547.14H1080.49V1782.30ZM1080.44 1782.30V1556.27H1083.33V1782.30ZM1083.28 1782.30V1562.40H1086.18V1782.30ZM1086.13 1782.30V1572.57H1089.02V1782.30ZM1088.97 1782.30V1582.35H1091.87V1782.30ZM1091.82 1782.30V1590.17H1094.71V1782.30ZM1094.66 1782.30V1603.86H1097.56V1782.30ZM1097.51 1782.30V1611.94H1100.40V1782.30ZM1100.35 1782.30V1627.33H1103.25V1782.30ZM1103.20 1782.30V1637.11H1106.09V1782.30ZM1106.04 1782.30V1644.28H1108.94V1782.30ZM1108.89 1782.30V1662.53H1111.78V1782.30ZM1111.73 1782.30V1683.39H1114.63V1782.30ZM1114.58 1782.30V1680.13H1117.47V1782.30ZM1117.42 1782.30V1715.98H1120.32V1782.30ZM1120.27 1782.30V1748.58H1123.17V1782.30ZM1123.12 1782.30V1698.38H1126.01V1782.30Z" fill="#aed4ea"/>
<rect x="1039.80" y="1434.90" width="347.20" height="347.40" fill="none" stroke="#000" stroke-width="2.1"/>
<path d="M1039.80 1782.30v7.6M1139.00 1782.30v7.6M1238.20 1782.30v7.6M1337.40 1782.30v7.6M1039.80 1782.30h-7.3M1039.80 1749.08h-7.3M1039.80 1674.07h-7.3M1039.80 1614.28h-7.3M1039.80 1554.49h-7.3M1039.80 1494.69h-7.3M1039.80 1434.90h-7.3" stroke="#000" stroke-width="2.1" fill="none"/>
<text x="1026.29" y="1792.61" font-size="33.0" text-anchor="end" font-weight="normal">0</text>
<text x="1013.51" y="1764.10" font-size="33.0" text-anchor="end" font-weight="normal">10</text>
<text x="1025.08" y="1754.20" font-size="21.0" text-anchor="end" font-weight="normal">0</text>
<text x="1013.51" y="1689.08" font-size="33.0" text-anchor="end" font-weight="normal">10</text>
<text x="1025.08" y="1679.19" font-size="21.0" text-anchor="end" font-weight="normal">1</text>
<text x="1024.69" y="1631.49" font-size="33.0" text-anchor="end" font-weight="normal">10</text>
<text x="1025.42" y="1649.95" font-size="22" text-anchor="end" font-weight="normal">2</text>
<text x="1013.51" y="1569.50" font-size="33.0" text-anchor="end" font-weight="normal">10</text>
<text x="1025.08" y="1559.60" font-size="21.0" text-anchor="end" font-weight="normal">3</text>
<text x="1013.51" y="1509.71" font-size="33.0" text-anchor="end" font-weight="normal">10</text>
<text x="1025.08" y="1499.81" font-size="21.0" text-anchor="end" font-weight="normal">4</text>
<text x="1013.51" y="1449.91" font-size="33.0" text-anchor="end" font-weight="normal">10</text>
<text x="1025.08" y="1440.02" font-size="21.0" text-anchor="end" font-weight="normal">5</text>
<text x="1043.40" y="1819.43" font-size="33.0" text-anchor="middle" font-weight="normal">0.00</text>
<text x="1139.00" y="1819.43" font-size="33.0" text-anchor="middle" font-weight="normal">0.02</text>
<text x="1238.20" y="1819.43" font-size="33.0" text-anchor="middle" font-weight="normal">0.04</text>
<text x="1337.40" y="1819.43" font-size="33.0" text-anchor="middle" font-weight="normal">0.06</text>
<path d="M273.83 1881.20V2227.60M373.06 1881.20V2227.60M472.29 1881.20V2227.60M174.60 2195.09H521.90M174.60 2121.68H521.90M174.60 2063.16H521.90M174.60 2004.64H521.90M174.60 1946.12H521.90M174.60 1887.60H521.90" stroke="#a8a8a8" stroke-width="1.45" fill="none"/>
<path d="M175.40 2227.60V1897.77H186.53V2227.60ZM186.48 2227.60V1966.89H197.60V2227.60ZM197.55 2227.60V1986.64H208.68V2227.60ZM208.63 2227.60V2002.19H219.76V2227.60ZM219.71 2227.60V2014.53H230.83V2227.60ZM230.78 2227.60V2025.64H241.91V2227.60ZM241.86 2227.60V2034.28H252.99V2227.60ZM252.94 2227.60V2040.95H264.06V2227.60ZM264.01 2227.60V2052.80H275.14V2227.60ZM275.09 2227.60V2054.03H286.22V2227.60ZM286.17 2227.60V2067.11H297.29V2227.60ZM297.24 2227.60V2077.48H308.37V2227.60ZM308.32 2227.60V2087.85H319.45V2227.60ZM319.40 2227.60V2091.06H330.52V2227.60ZM330.47 2227.60V2097.72H341.60V2227.60ZM341.55 2227.60V2097.23H352.68V2227.60ZM352.63 2227.60V2121.42H363.75V2227.60ZM363.70 2227.60V2115.74H374.83V2227.60ZM374.78 2227.60V2117.47H385.91V2227.60ZM385.86 2227.60V2121.92H396.98V2227.60ZM396.93 2227.60V2134.75H408.06V2227.60ZM408.01 2227.60V2139.69H419.14V2227.60ZM419.09 2227.60V2152.77H430.21V2227.60ZM430.16 2227.60V2134.75H441.29V2227.60ZM441.24 2227.60V2194.74H452.37V2227.60ZM452.32 2227.60V2194.74H463.44V2227.60ZM463.39 2227.60V2194.74H474.52V2227.60ZM474.47 2227.60V2162.65H485.60V2227.60ZM485.55 2227.60V2152.77H496.67V2227.60ZM496.62 2227.60V2162.65H507.75V2227.60Z" fill="#aed4ea"/>
<rect x="174.60" y="1881.20" width="347.30" height="346.40" fill="none" stroke="#000" stroke-width="2.1"/>
<path d="M174.60 2227.60v7.6M273.83 2227.60v7.6M373.06 2227.60v7.6M472.29 2227.60v7.6M174.60 2227.60h-7.6M174.60 2195.09h-7.6M174.60 2121.68h-7.6M174.60 2063.16h-7.6M174.60 2004.64h-7.6M174.60 1946.12h-7.6M174.60 1887.60h-7.6" stroke="#000" stroke-width="2.1" fill="none"/>
<clipPath id="clip0a"><rect x="130" y="2200" width="40" height="42"/></clipPath>
<text x="162.09" y="2248.50" font-size="33.0" text-anchor="end" font-weight="normal" clip-path="url(#clip0a)">0</text>
<text x="149.31" y="2213.49" font-size="33.0" text-anchor="end" font-weight="normal">10</text>
<text x="160.88" y="2203.60" font-size="21.0" text-anchor="end" font-weight="normal">0</text>
<text x="149.31" y="2139.20" font-size="33.0" text-anchor="end" font-weight="normal">10</text>
<text x="160.88" y="2129.30" font-size="21.0" text-anchor="end" font-weight="normal">1</text>
<text x="160.49" y="2080.37" font-size="33.0" text-anchor="end" font-weight="normal">10</text>
<text x="161.22" y="2098.83" font-size="22" text-anchor="end" font-weight="normal">2</text>
<text x="149.31" y="2020.76" font-size="33.0" text-anchor="end" font-weight="normal">10</text>
<text x="160.88" y="2010.86" font-size="21.0" text-anchor="end" font-weight="normal">3</text>
<text x="149.31" y="1961.54" font-size="33.0" text-anchor="end" font-weight="normal">10</text>
<text x="160.88" y="1951.64" font-size="21.0" text-anchor="end" font-weight="normal">4</text>
<text x="149.31" y="1902.31" font-size="33.0" text-anchor="end" font-weight="normal">10</text>
<text x="160.88" y="1892.42" font-size="21.0" text-anchor="end" font-weight="normal">5</text>
<text x="178.20" y="2266.73" font-size="33.0" text-anchor="middle" font-weight="normal">0.00</text>
<text x="273.83" y="2266.73" font-size="33.0" text-anchor="middle" font-weight="normal">0.02</text>
<text x="373.06" y="2266.73" font-size="33.0" text-anchor="middle" font-weight="normal">0.04</text>
<text x="472.29" y="2266.73" font-size="33.0" text-anchor="middle" font-weight="normal">0.06</text>
<path d="M706.10 1881.20V2227.60M805.30 1881.20V2227.60M904.50 1881.20V2227.60M606.90 2194.88H954.10M606.90 2120.99H954.10M606.90 2062.09H954.10M606.90 2003.19H954.10M606.90 1944.29H954.10M606.90 1885.39H954.10" stroke="#a8a8a8" stroke-width="1.45" fill="none"/>
<path d="M607.90 2227.60V1897.77H618.76V2227.60ZM618.71 2227.60V1957.76H629.58V2227.60ZM629.53 2227.60V1974.30H640.39V2227.60ZM640.34 2227.60V1988.62H651.20V2227.60ZM651.15 2227.60V1999.72H662.02V2227.60ZM661.97 2227.60V2008.86H672.83V2227.60ZM672.78 2227.60V2020.21H683.64V2227.60ZM683.59 2227.60V2031.81H694.46V2227.60ZM694.41 2227.60V2044.16H705.27V2227.60ZM705.22 2227.60V2055.76H716.08V2227.60ZM716.03 2227.60V2061.44H726.90V2227.60ZM726.85 2227.60V2075.01H737.71V2227.60ZM737.66 2227.60V2095.50H748.52V2227.60ZM748.47 2227.60V2089.82H759.34V2227.60ZM759.29 2227.60V2099.21H770.15V2227.60ZM770.10 2227.60V2115.00H780.96V2227.60ZM780.91 2227.60V2117.47H791.78V2227.60ZM791.73 2227.60V2130.56H802.59V2227.60ZM802.54 2227.60V2127.35H813.40V2227.60ZM813.35 2227.60V2139.20H824.22V2227.60ZM824.17 2227.60V2131.30H835.03V2227.60ZM834.98 2227.60V2162.65H845.84V2227.60ZM845.79 2227.60V2145.37H856.66V2227.60ZM856.61 2227.60V2139.20H867.47V2227.60ZM878.23 2227.60V2195.48H889.10V2227.60ZM889.05 2227.60V2195.48H899.91V2227.60ZM899.86 2227.60V2195.48H910.72V2227.60ZM921.49 2227.60V2162.65H932.35V2227.60Z" fill="#aed4ea"/>
<rect x="606.90" y="1881.20" width="347.20" height="346.40" fill="none" stroke="#000" stroke-width="2.1"/>
<path d="M606.90 2227.60v7.6M706.10 2227.60v7.6M805.30 2227.60v7.6M904.50 2227.60v7.6M606.90 2227.60h-2.5M606.90 2194.88h-2.5M606.90 2120.99h-2.5M606.90 2062.09h-2.5M606.90 2003.19h-2.5M606.90 1944.29h-2.5M606.90 1885.39h-2.5" stroke="#000" stroke-width="2.1" fill="none"/>
<text x="598.09" y="2236.81" font-size="33.0" text-anchor="end" font-weight="normal">0</text>
<text x="585.31" y="2208.79" font-size="33.0" text-anchor="end" font-weight="normal">10</text>
<text x="596.88" y="2198.89" font-size="21.0" text-anchor="end" font-weight="normal">0</text>
<text x="585.31" y="2133.77" font-size="33.0" text-anchor="end" font-weight="normal">10</text>
<text x="596.88" y="2123.88" font-size="21.0" text-anchor="end" font-weight="normal">1</text>
<text x="585.31" y="2073.98" font-size="33.0" text-anchor="end" font-weight="normal">10</text>
<text x="596.88" y="2064.08" font-size="21.0" text-anchor="end" font-weight="normal">2</text>
<text x="585.31" y="2014.18" font-size="33.0" text-anchor="end" font-weight="normal">10</text>
<text x="596.88" y="2004.29" font-size="21.0" text-anchor="end" font-weight="normal">3</text>
<text x="585.31" y="1954.39" font-size="33.0" text-anchor="end" font-weight="normal">10</text>
<text x="596.88" y="1944.49" font-size="21.0" text-anchor="end" font-weight="normal">4</text>
<text x="585.31" y="1894.59" font-size="33.0" text-anchor="end" font-weight="normal">10</text>
<text x="596.88" y="1884.69" font-size="21.0" text-anchor="end" font-weight="normal">5</text>
<text x="610.50" y="2266.73" font-size="33.0" text-anchor="middle" font-weight="normal">0.00</text>
<text x="706.10" y="2266.73" font-size="33.0" text-anchor="middle" font-weight="normal">0.02</text>
<text x="805.30" y="2266.73" font-size="33.0" text-anchor="middle" font-weight="normal">0.04</text>
<text x="904.50" y="2266.73" font-size="33.0" text-anchor="middle" font-weight="normal">0.06</text>
<path d="M1139.00 1881.20V2227.60M1238.20 1881.20V2227.60M1337.40 1881.20V2227.60M1039.80 2194.27H1387.00M1039.80 2118.11H1387.00M1039.80 2057.39H1387.00M1039.80 1996.68H1387.00M1039.80 1935.97H1387.00" stroke="#a8a8a8" stroke-width="1.45" fill="none"/>
<path d="M1040.40 2227.60V1897.77H1047.28V2227.60ZM1047.23 2227.60V1937.27H1054.11V2227.60ZM1054.06 2227.60V1941.22H1060.94V2227.60ZM1060.89 2227.60V1948.63H1067.77V2227.60ZM1067.72 2227.60V1956.52H1074.60V2227.60ZM1074.55 2227.60V1966.40H1081.43V2227.60ZM1081.38 2227.60V1978.74H1088.26V2227.60ZM1088.21 2227.60V1990.59H1095.09V2227.60ZM1095.04 2227.60V2002.93H1101.92V2227.60ZM1101.87 2227.60V2014.78H1108.75V2227.60ZM1108.70 2227.60V2029.10H1115.58V2227.60ZM1115.53 2227.60V2037.49H1122.41V2227.60ZM1122.36 2227.60V2050.33H1129.24V2227.60ZM1129.19 2227.60V2062.67H1136.07V2227.60ZM1136.02 2227.60V2065.63H1142.90V2227.60ZM1142.85 2227.60V2078.96H1149.73V2227.60ZM1149.68 2227.60V2089.33H1156.56V2227.60ZM1156.51 2227.60V2087.36H1163.39V2227.60ZM1163.34 2227.60V2101.18H1170.22V2227.60ZM1170.17 2227.60V2105.87H1177.05V2227.60ZM1177.00 2227.60V2111.55H1183.88V2227.60ZM1183.83 2227.60V2111.55H1190.71V2227.60ZM1190.66 2227.60V2127.35H1197.54V2227.60ZM1197.49 2227.60V2142.40H1204.37V2227.60ZM1204.32 2227.60V2160.18H1211.20V2227.60ZM1211.15 2227.60V2149.81H1218.03V2227.60ZM1231.64 2227.60V2194.74H1238.52V2227.60ZM1238.47 2227.60V2194.74H1245.35V2227.60Z" fill="#aed4ea"/>
<rect x="1039.80" y="1881.20" width="347.20" height="346.40" fill="none" stroke="#000" stroke-width="2.1"/>
<path d="M1039.80 2227.60v7.6M1139.00 2227.60v7.6M1238.20 2227.60v7.6M1337.40 2227.60v7.6M1039.80 2228.00h-6.0M1039.80 2194.27h-6.0M1039.80 2118.11h-6.0M1039.80 2057.39h-6.0M1039.80 1996.68h-6.0M1039.80 1935.97h-6.0" stroke="#000" stroke-width="2.1" fill="none"/>
<text x="1023.89" y="2235.91" font-size="33.0" text-anchor="end" font-weight="normal">0</text>
<text x="1011.11" y="2207.77" font-size="33.0" text-anchor="end" font-weight="normal">10</text>
<text x="1022.68" y="2197.88" font-size="21.0" text-anchor="end" font-weight="normal">0</text>
<text x="1011.11" y="2132.96" font-size="33.0" text-anchor="end" font-weight="normal">10</text>
<text x="1022.68" y="2123.07" font-size="21.0" text-anchor="end" font-weight="normal">1</text>
<text x="1011.11" y="2073.33" font-size="33.0" text-anchor="end" font-weight="normal">10</text>
<text x="1022.68" y="2063.44" font-size="21.0" text-anchor="end" font-weight="normal">2</text>
<text x="1011.11" y="2013.70" font-size="33.0" text-anchor="end" font-weight="normal">10</text>
<text x="1022.68" y="2003.81" font-size="21.0" text-anchor="end" font-weight="normal">3</text>
<text x="1011.11" y="1954.07" font-size="33.0" text-anchor="end" font-weight="normal">10</text>
<text x="1022.68" y="1944.18" font-size="21.0" text-anchor="end" font-weight="normal">4</text>
<text x="1011.11" y="1894.44" font-size="33.0" text-anchor="end" font-weight="normal">10</text>
<text x="1022.68" y="1884.54" font-size="21.0" text-anchor="end" font-weight="normal">5</text>
<text x="1043.40" y="2266.73" font-size="33.0" text-anchor="middle" font-weight="normal">0.00</text>
<text x="1139.00" y="2266.73" font-size="33.0" text-anchor="middle" font-weight="normal">0.02</text>
<text x="1238.20" y="2266.73" font-size="33.0" text-anchor="middle" font-weight="normal">0.04</text>
<text x="1337.40" y="2266.73" font-size="33.0" text-anchor="middle" font-weight="normal">0.06</text>
<rect x="307.0" y="111.6" width="207.9" height="221.1" rx="4" ry="4" fill="#fff" fill-opacity="0.8" stroke="#cccccc" stroke-width="1.4"/>
<text x="410.50" y="141.90" font-size="33" text-anchor="middle" font-weight="normal">Class</text>
<path d="M369.8 146.5H452.8" stroke="#000" stroke-width="3"/>
<path d="M314 163.9H357.4" stroke="#62a8ce" stroke-width="3.4"/>
<text x="371.60" y="175.10" font-size="29" text-anchor="start" font-weight="normal">0</text>
<path d="M429.6 163.9H474.6" stroke="#c992dd" stroke-width="3.4"/>
<text x="484.10" y="175.10" font-size="29" text-anchor="start" font-weight="normal">5</text>
<path d="M314 194.9H357.4" stroke="#7fd4b6" stroke-width="3.4"/>
<text x="371.60" y="206.10" font-size="29" text-anchor="start" font-weight="normal">1</text>
<path d="M429.6 194.9H474.6" stroke="#ffb470" stroke-width="3.4"/>
<text x="484.10" y="206.10" font-size="29" text-anchor="start" font-weight="normal">6</text>
<path d="M314 224.8H357.4" stroke="#fff39a" stroke-width="3.4"/>
<text x="371.60" y="236.00" font-size="29" text-anchor="start" font-weight="normal">2</text>
<path d="M429.6 224.8H474.6" stroke="#c2b2fb" stroke-width="3.4"/>
<text x="484.10" y="236.00" font-size="29" text-anchor="start" font-weight="normal">7</text>
<path d="M314 255.9H357.4" stroke="#ffb877" stroke-width="3.4"/>
<text x="371.60" y="267.10" font-size="29" text-anchor="start" font-weight="normal">3</text>
<path d="M429.6 255.9H474.6" stroke="#94fbb4" stroke-width="3.4"/>
<text x="484.10" y="267.10" font-size="29" text-anchor="start" font-weight="normal">8</text>
<path d="M314 285.6H357.4" stroke="#f0948a" stroke-width="3.4"/>
<text x="371.60" y="296.80" font-size="29" text-anchor="start" font-weight="normal">4</text>
<path d="M429.6 285.6H474.6" stroke="#ff6262" stroke-width="3.4"/>
<text x="484.10" y="296.80" font-size="29" text-anchor="start" font-weight="normal">9</text>
<path d="M356.2 318.8H402.7" stroke="#000" stroke-width="6.2"/>
<text x="408.30" y="327.30" font-size="29.2" text-anchor="start" font-weight="normal">AVG</text>
<rect x="322.8" y="1864.8" width="188.4" height="185.2" fill="#fff"/>
<path d="M341.82 1866.80V2044.00M394.70 1866.80V2044.00M447.58 1866.80V2044.00M500.46 1866.80V2044.00M328.60 2008.56H503.10M328.60 1973.12H503.10M328.60 1937.68H503.10M328.60 1902.24H503.10" stroke="#a8a8a8" stroke-width="1.1" fill="none"/>
<polyline points="336.5,2027.6 341.8,1933.6 347.1,1922.3 352.4,1911.7 357.7,1907.9 363.0,1905.7 368.3,1903.6 373.5,1902.9 378.8,1902.2 384.1,1901.2 389.4,1901.2 394.7,1901.7 400.0,1901.0 405.3,1900.1 410.6,1901.0 415.9,1899.7 421.1,1900.5 426.4,1900.2 431.7,1899.8 437.0,1899.0 442.3,1900.0 447.6,1899.5 458.2,1899.3 468.7,1900.0 474.0,1900.0 484.6,1899.6 495.2,1898.8" fill="none" stroke="#000" stroke-width="3.6" stroke-linejoin="round" stroke-linecap="butt"/>
<rect x="328.60" y="1866.80" width="174.50" height="177.20" fill="none" stroke="#3a3a3a" stroke-width="1.4"/>
<path d="M341.82 2044.00v3.8M394.70 2044.00v3.8M447.58 2044.00v3.8M500.46 2044.00v3.8M328.60 2044.00h-3.8M328.60 2008.56h-3.8M328.60 1973.12h-3.8M328.60 1937.68h-3.8M328.60 1902.24h-3.8M328.60 1866.80h-3.8" stroke="#3a3a3a" stroke-width="1.4" fill="none"/>
<text x="323.40" y="1879.30" font-size="28.5" text-anchor="end" font-weight="normal">100</text>
<text x="323.10" y="2057.80" font-size="28.5" text-anchor="end" font-weight="normal">0</text>
<text x="342.90" y="2073.80" font-size="28.5" text-anchor="middle" font-weight="normal">0</text>
<text x="501.80" y="2073.80" font-size="28.5" text-anchor="middle" font-weight="normal">30</text>
<text x="422.30" y="2091.30" font-size="33.0" text-anchor="middle" font-weight="normal">Epoch</text>
<text x="298.10" y="1955.60" font-size="33.0" text-anchor="middle" font-weight="normal" transform="rotate(-90 298.10 1955.60)">Accuracy</text>
<rect x="757.6" y="1865.0" width="187.4" height="182.5" fill="#fff"/>
<path d="M775.26 1867.00V2042.40M828.29 1867.00V2042.40M881.32 1867.00V2042.40M934.35 1867.00V2042.40M762.00 2007.32H937.00M762.00 1972.24H937.00M762.00 1937.16H937.00M762.00 1902.08H937.00" stroke="#a8a8a8" stroke-width="1.1" fill="none"/>
<polyline points="770.0,2025.6 775.3,1922.8 780.6,1911.4 785.9,1906.6 791.2,1907.5 796.5,1902.8 801.8,1902.2 807.1,1901.0 812.4,1901.5 817.7,1900.0 823.0,1900.5 828.3,1899.0 838.9,1899.4 849.5,1898.5 854.8,1898.0 865.4,1898.3 870.7,1899.2 881.3,1898.0 891.9,1898.2 907.8,1897.7 913.1,1897.0 918.4,1896.5 923.7,1897.2 929.0,1895.8" fill="none" stroke="#000" stroke-width="3.6" stroke-linejoin="round" stroke-linecap="butt"/>
<rect x="762.00" y="1867.00" width="175.00" height="175.40" fill="none" stroke="#3a3a3a" stroke-width="1.4"/>
<path d="M775.26 2042.40v3.8M828.29 2042.40v3.8M881.32 2042.40v3.8M934.35 2042.40v3.8M762.00 2042.40h-3.8M762.00 2007.32h-3.8M762.00 1972.24h-3.8M762.00 1937.16h-3.8M762.00 1902.08h-3.8M762.00 1867.00h-3.8" stroke="#3a3a3a" stroke-width="1.4" fill="none"/>
<text x="756.90" y="1879.30" font-size="28.5" text-anchor="end" font-weight="normal">100</text>
<text x="755.90" y="2057.80" font-size="28.5" text-anchor="end" font-weight="normal">0</text>
<text x="776.20" y="2073.80" font-size="28.5" text-anchor="middle" font-weight="normal">0</text>
<text x="935.20" y="2073.80" font-size="28.5" text-anchor="middle" font-weight="normal">30</text>
<text x="854.90" y="2091.30" font-size="33.0" text-anchor="middle" font-weight="normal">Epoch</text>
<text x="731.50" y="1955.60" font-size="33.0" text-anchor="middle" font-weight="normal" transform="rotate(-90 731.50 1955.60)">Accuracy</text>
<rect x="1190.1" y="1860.0" width="195.8" height="184.0" fill="#fff"/>
<path d="M1207.87 1862.00V2039.30M1260.96 1862.00V2039.30M1314.05 1862.00V2039.30M1367.15 1862.00V2039.30M1194.60 2003.84H1369.80M1194.60 1968.38H1369.80M1194.60 1932.92H1369.80M1194.60 1897.46H1369.80" stroke="#a8a8a8" stroke-width="1.1" fill="none"/>
<polyline points="1202.6,2021.0 1207.9,2022.0 1213.2,2021.6 1218.5,2019.0 1223.8,2021.5 1229.1,2021.5 1234.4,2019.5 1239.7,2015.0 1245.0,2002.2 1250.3,1978.5 1255.7,1973.5 1261.0,1969.6 1266.3,1967.6 1271.6,1950.8 1276.9,1945.9 1282.2,1945.5 1287.5,1938.6 1292.8,1939.0 1298.1,1932.7 1303.4,1933.5 1308.7,1938.0 1314.1,1928.1 1319.4,1929.0 1324.7,1926.7 1330.0,1928.0 1335.3,1926.2 1340.6,1925.8 1345.9,1924.8 1351.2,1925.0 1356.5,1927.1 1361.8,1929.5" fill="none" stroke="#000" stroke-width="3.6" stroke-linejoin="round" stroke-linecap="butt"/>
<rect x="1194.60" y="1862.00" width="175.20" height="177.30" fill="none" stroke="#3a3a3a" stroke-width="1.4"/>
<path d="M1207.87 2039.30v3.8M1260.96 2039.30v3.8M1314.05 2039.30v3.8M1367.15 2039.30v3.8M1194.60 2039.30h-3.8M1194.60 2003.84h-3.8M1194.60 1968.38h-3.8M1194.60 1932.92h-3.8M1194.60 1897.46h-3.8M1194.60 1862.00h-3.8" stroke="#3a3a3a" stroke-width="1.4" fill="none"/>
<text x="1186.40" y="1879.30" font-size="28.5" text-anchor="end" font-weight="normal">100</text>
<text x="1185.40" y="2057.80" font-size="28.5" text-anchor="end" font-weight="normal">0</text>
<text x="1206.30" y="2073.80" font-size="28.5" text-anchor="middle" font-weight="normal">0</text>
<text x="1365.90" y="2073.80" font-size="28.5" text-anchor="middle" font-weight="normal">30</text>
<text x="1285.10" y="2092.20" font-size="33.0" text-anchor="middle" font-weight="normal">Epoch</text>
<text x="1161.00" y="1955.60" font-size="33.0" text-anchor="middle" font-weight="normal" transform="rotate(-90 1161.00 1955.60)">Accuracy</text>
<text x="127.60" y="53.50" font-size="50" text-anchor="start" font-weight="bold">a)</text>
<text x="561.40" y="53.50" font-size="50" text-anchor="start" font-weight="bold">b)</text>
<text x="990.10" y="53.50" font-size="50" text-anchor="start" font-weight="bold">c)</text>
<text x="343.80" y="36.10" font-size="42.0" text-anchor="middle" font-weight="normal">Low</text>
<text x="343.80" y="85.60" font-size="42.0" text-anchor="middle" font-weight="normal">Initial Activity</text>
<text x="784.80" y="36.10" font-size="42.0" text-anchor="middle" font-weight="normal">Moderate</text>
<text x="784.80" y="85.60" font-size="42.0" text-anchor="middle" font-weight="normal">Initial Activity</text>
<text x="1220.20" y="36.10" font-size="42.0" text-anchor="middle" font-weight="normal">High</text>
<text x="1220.20" y="85.60" font-size="42.0" text-anchor="middle" font-weight="normal">Initial Activity</text>
<text x="37.10" y="262.30" font-size="42.0" text-anchor="middle" font-weight="normal" transform="rotate(-90 37.10 262.30)">Excitatory Spikes</text>
<text x="86.10" y="262.30" font-size="42.0" text-anchor="middle" font-weight="normal" transform="rotate(-90 86.10 262.30)">per Image</text>
<text x="41.50" y="672.30" font-size="42.0" text-anchor="middle" font-weight="normal" transform="rotate(-90 41.50 672.30)">Inhibitory Spikes</text>
<text x="91.30" y="672.30" font-size="42.0" text-anchor="middle" font-weight="normal" transform="rotate(-90 91.30 672.30)">per Image</text>
<text x="51.20" y="1175.50" font-size="42.0" text-anchor="middle" font-weight="normal" transform="rotate(-90 51.20 1175.50)">Percent Excitatory</text>
<text x="100.60" y="1175.50" font-size="42.0" text-anchor="middle" font-weight="normal" transform="rotate(-90 100.60 1175.50)">Activity per Image</text>
<text x="47.40" y="1642.00" font-size="42.0" text-anchor="middle" font-weight="normal" transform="rotate(-90 47.40 1642.00)">Frequency</text>
<text x="97.30" y="1642.00" font-size="42.0" text-anchor="middle" font-weight="normal" transform="rotate(-90 97.30 1642.00)">(Pre-Training)</text>
<text x="44.00" y="2051.00" font-size="42.0" text-anchor="middle" font-weight="normal" transform="rotate(-90 44.00 2051.00)">Frequency</text>
<text x="94.00" y="2051.00" font-size="42.0" text-anchor="middle" font-weight="normal" transform="rotate(-90 94.00 2051.00)">(Post-Training)</text>
<text x="358.60" y="1410.50" font-size="42.0" text-anchor="middle" font-weight="normal">Epoch</text>
<text x="790.50" y="1410.50" font-size="42.0" text-anchor="middle" font-weight="normal">Epoch</text>
<text x="1222.50" y="1410.50" font-size="42.0" text-anchor="middle" font-weight="normal">Epoch</text>
<text x="350.00" y="2310.20" font-size="42.0" text-anchor="middle" font-weight="normal">Input to Hidden</text>
<text x="349.15" y="2361.00" font-size="42.0" text-anchor="middle" font-weight="normal">Weight</text>
<text x="780.80" y="2312.30" font-size="42.0" text-anchor="middle" font-weight="normal">Input to Hidden</text>
<text x="779.70" y="2362.40" font-size="42.0" text-anchor="middle" font-weight="normal">Weight</text>
<text x="1218.20" y="2315.10" font-size="42.0" text-anchor="middle" font-weight="normal">Input to Hidden</text>
<text x="1217.05" y="2365.20" font-size="42.0" text-anchor="middle" font-weight="normal">Weight</text>
</svg>
</body></html>
